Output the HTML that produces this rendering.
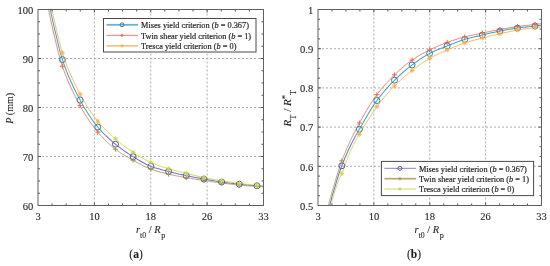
<!DOCTYPE html>
<html><head><meta charset="utf-8"><style>
html,body{margin:0;padding:0;background:#fff;width:550px;height:266px;overflow:hidden}
svg{display:block;filter:blur(0.45px)}
</style></head><body>
<svg width="550" height="266" viewBox="0 0 550 266">
<defs>
<clipPath id="cTop"><rect x="0" y="0" width="550" height="135.5"/></clipPath>
<clipPath id="cBot"><rect x="0" y="135.5" width="550" height="130.5"/></clipPath>
<clipPath id="axL"><rect x="38.0" y="9.5" width="225.5" height="196.0"/></clipPath>
<clipPath id="axR"><rect x="318.0" y="9.5" width="223.5" height="196.0"/></clipPath>
</defs>
<style>.g{stroke:#a4a4a4;stroke-width:0.9;stroke-dasharray:2 2}.t{stroke:#444;stroke-width:0.9;fill:none}.bx{fill:none;stroke:#606060;stroke-width:1}text{font-family:"Liberation Serif",serif;fill:#1e1e1e;stroke:#1e1e1e;stroke-width:0.1px}</style>
<line x1="94.38" y1="9.5" x2="94.38" y2="205.5" class="g"/>
<line x1="150.75" y1="9.5" x2="150.75" y2="205.5" class="g"/>
<line x1="207.12" y1="9.5" x2="207.12" y2="205.5" class="g"/>
<line x1="38.0" y1="58.50" x2="263.5" y2="58.50" class="g"/>
<line x1="38.0" y1="107.50" x2="263.5" y2="107.50" class="g"/>
<line x1="38.0" y1="156.50" x2="263.5" y2="156.50" class="g"/>
<line x1="373.88" y1="9.5" x2="373.88" y2="205.5" class="g"/>
<line x1="429.75" y1="9.5" x2="429.75" y2="205.5" class="g"/>
<line x1="485.62" y1="9.5" x2="485.62" y2="205.5" class="g"/>
<line x1="318.0" y1="48.70" x2="541.5" y2="48.70" class="g"/>
<line x1="318.0" y1="87.90" x2="541.5" y2="87.90" class="g"/>
<line x1="318.0" y1="127.10" x2="541.5" y2="127.10" class="g"/>
<line x1="318.0" y1="166.30" x2="541.5" y2="166.30" class="g"/>
<g clip-path="url(#axL)"><g clip-path="url(#cTop)"><path d="M50.30,9.50 L50.51,10.51 L50.73,11.52 L50.94,12.54 L51.16,13.55 L51.37,14.56 L51.59,15.57 L51.81,16.58 L52.03,17.59 L52.25,18.60 L52.48,19.61 L52.70,20.62 L52.93,21.63 L53.15,22.63 L53.38,23.64 L53.61,24.65 L53.84,25.66 L54.07,26.66 L54.31,27.67 L54.54,28.68 L54.78,29.68 L55.01,30.69 L55.25,31.70 L55.49,32.70 L55.73,33.71 L55.97,34.71 L56.21,35.72 L56.45,36.73 L56.68,37.73 L56.92,38.74 L57.16,39.75 L57.40,40.76 L57.63,41.77 L57.87,42.78 L58.11,43.79 L58.36,44.80 L58.60,45.81 L58.85,46.82 L59.10,47.82 L59.35,48.83 L59.60,49.83 L59.86,50.83 L60.13,51.83 L60.40,52.83 L60.67,53.82 L60.95,54.81 L61.24,55.80 L61.53,56.79 L61.82,57.77 L62.13,58.75 L62.44,59.73 L62.75,60.70 L63.08,61.68 L63.41,62.65 L63.74,63.62 L64.08,64.60 L64.43,65.57 L64.78,66.54 L65.14,67.51 L65.51,68.48 L65.88,69.44 L66.25,70.41 L66.63,71.37 L67.02,72.34 L67.41,73.30 L67.80,74.26 L68.20,75.22 L68.60,76.18 L69.01,77.14 L69.42,78.09 L69.84,79.04 L70.26,80.00 L70.68,80.95 L71.11,81.90 L71.55,82.84 L71.98,83.79 L72.42,84.73 L72.86,85.67 L73.31,86.61 L73.76,87.55 L74.21,88.48 L74.67,89.42 L75.13,90.35 L75.59,91.27 L76.05,92.20 L76.52,93.12 L76.98,94.05 L77.46,94.96 L77.93,95.88 L78.40,96.80 L78.88,97.71 L79.36,98.61 L79.84,99.52 L80.32,100.42 L80.81,101.33 L81.30,102.23 L81.80,103.13 L82.30,104.03 L82.81,104.94 L83.32,105.84 L83.84,106.74 L84.37,107.63 L84.90,108.53 L85.43,109.43 L85.97,110.32 L86.52,111.21 L87.07,112.09 L87.63,112.97 L88.19,113.85 L88.76,114.73 L89.33,115.60 L89.91,116.47 L90.49,117.33 L91.08,118.19 L91.68,119.04 L92.27,119.88 L92.88,120.72 L93.49,121.56 L94.10,122.38 L94.72,123.21 L95.35,124.02 L95.98,124.83 L96.61,125.63 L97.25,126.42 L97.90,127.20 L98.55,127.98 L99.22,128.75 L99.90,129.52 L100.59,130.29 L101.29,131.05 L102.00,131.81 L102.71,132.56 L103.44,133.30 L104.17,134.04 L104.91,134.78 L105.65,135.51 L106.40,136.23 L107.16,136.95 L107.92,137.66 L108.69,138.37 L109.46,139.07 L110.24,139.76 L111.02,140.45 L111.80,141.14 L112.58,141.81 L113.37,142.48 L114.16,143.15 L114.94,143.81 L115.73,144.46 L116.53,145.10 L117.34,145.74 L118.15,146.38 L118.96,147.01 L119.79,147.64 L120.62,148.26 L121.45,148.87 L122.29,149.48 L123.13,150.08 L123.98,150.68 L124.84,151.28 L125.69,151.86 L126.55,152.45 L127.42,153.02 L128.28,153.60 L129.15,154.16 L130.02,154.72 L130.89,155.28 L131.76,155.83 L132.64,156.38 L133.51,156.92 L134.39,157.46 L135.27,158.01 L136.16,158.55 L137.04,159.10 L137.93,159.64 L138.82,160.18 L139.72,160.72 L140.62,161.25 L141.52,161.77 L142.43,162.28 L143.34,162.78 L144.26,163.27 L145.17,163.75 L146.10,164.21 L147.02,164.66 L147.96,165.09 L148.89,165.51 L149.84,165.90 L150.78,166.27 L151.74,166.63 L152.70,166.97 L153.67,167.30 L154.64,167.63 L155.63,167.94 L156.61,168.24 L157.61,168.54 L158.60,168.83 L159.60,169.11 L160.61,169.39 L161.61,169.66 L162.62,169.92 L163.62,170.19 L164.63,170.45 L165.64,170.71 L166.64,170.97 L167.65,171.23 L168.65,171.49 L169.65,171.74 L170.65,172.00 L171.65,172.25 L172.65,172.50 L173.66,172.75 L174.66,172.99 L175.67,173.24 L176.67,173.47 L177.68,173.71 L178.69,173.94 L179.70,174.17 L180.70,174.40 L181.71,174.63 L182.72,174.85 L183.73,175.07 L184.74,175.29 L185.75,175.51 L186.77,175.72 L187.78,175.93 L188.79,176.14 L189.80,176.35 L190.81,176.55 L191.83,176.75 L192.84,176.95 L193.86,177.15 L194.87,177.34 L195.89,177.54 L196.90,177.73 L197.92,177.92 L198.94,178.11 L199.95,178.30 L200.97,178.49 L201.99,178.67 L203.00,178.86 L204.02,179.04 L205.04,179.22 L206.06,179.41 L207.07,179.59 L208.09,179.78 L209.11,179.96 L210.13,180.14 L211.15,180.32 L212.16,180.50 L213.18,180.67 L214.20,180.85 L215.22,181.02 L216.24,181.19 L217.26,181.35 L218.28,181.52 L219.30,181.67 L220.33,181.83 L221.35,181.98 L222.37,182.12 L223.39,182.27 L224.42,182.41 L225.44,182.55 L226.47,182.69 L227.49,182.82 L228.52,182.95 L229.54,183.09 L230.57,183.21 L231.59,183.34 L232.62,183.46 L233.65,183.58 L234.67,183.70 L235.70,183.82 L236.73,183.94 L237.76,184.05 L238.78,184.16 L239.81,184.26 L240.84,184.37 L241.87,184.47 L242.90,184.57 L243.93,184.67 L244.96,184.77 L245.99,184.86 L247.01,184.95 L248.04,185.04 L249.07,185.14 L250.10,185.22 L251.13,185.31 L252.16,185.40 L253.19,185.49 L254.23,185.57 L255.26,185.66 L256.29,185.74 L257.32,185.83 L258.35,185.91 L259.38,185.99 L260.41,186.07 L261.44,186.15 L262.47,186.22 L263.50,186.30" fill="none" stroke="#45a4c2" stroke-width="1.05" stroke-linejoin="round"/>
<path d="M48.60,9.50 L48.80,10.53 L49.01,11.55 L49.21,12.58 L49.42,13.61 L49.63,14.63 L49.84,15.66 L50.05,16.69 L50.27,17.71 L50.48,18.73 L50.70,19.76 L50.92,20.78 L51.14,21.81 L51.36,22.83 L51.58,23.85 L51.81,24.87 L52.04,25.89 L52.27,26.92 L52.50,27.94 L52.73,28.96 L52.96,29.98 L53.20,31.00 L53.43,32.02 L53.67,33.03 L53.91,34.05 L54.15,35.07 L54.39,36.09 L54.63,37.11 L54.87,38.13 L55.12,39.15 L55.36,40.17 L55.60,41.20 L55.84,42.22 L56.09,43.24 L56.33,44.26 L56.58,45.28 L56.83,46.30 L57.08,47.32 L57.33,48.34 L57.59,49.36 L57.84,50.38 L58.11,51.40 L58.37,52.41 L58.64,53.43 L58.91,54.44 L59.18,55.45 L59.46,56.46 L59.74,57.47 L60.02,58.47 L60.31,59.48 L60.61,60.48 L60.90,61.48 L61.21,62.47 L61.52,63.46 L61.83,64.45 L62.15,65.44 L62.47,66.43 L62.81,67.41 L63.14,68.39 L63.49,69.38 L63.84,70.36 L64.19,71.34 L64.56,72.32 L64.92,73.30 L65.30,74.28 L65.68,75.25 L66.06,76.23 L66.45,77.20 L66.84,78.18 L67.24,79.15 L67.65,80.12 L68.06,81.09 L68.47,82.06 L68.89,83.03 L69.31,83.99 L69.74,84.95 L70.17,85.92 L70.61,86.88 L71.05,87.83 L71.49,88.79 L71.94,89.74 L72.39,90.69 L72.85,91.64 L73.31,92.59 L73.77,93.54 L74.24,94.48 L74.70,95.42 L75.18,96.36 L75.65,97.30 L76.13,98.23 L76.61,99.16 L77.09,100.09 L77.58,101.01 L78.06,101.94 L78.55,102.86 L79.04,103.77 L79.54,104.69 L80.03,105.60 L80.53,106.51 L81.04,107.41 L81.55,108.32 L82.07,109.23 L82.59,110.13 L83.12,111.04 L83.65,111.94 L84.20,112.84 L84.74,113.74 L85.30,114.64 L85.85,115.54 L86.42,116.43 L86.99,117.32 L87.56,118.20 L88.15,119.08 L88.73,119.96 L89.32,120.84 L89.92,121.71 L90.52,122.57 L91.13,123.43 L91.74,124.28 L92.36,125.13 L92.99,125.98 L93.61,126.81 L94.25,127.65 L94.88,128.47 L95.53,129.29 L96.17,130.10 L96.82,130.90 L97.48,131.70 L98.14,132.49 L98.82,133.28 L99.50,134.06 L100.19,134.85 L100.89,135.63 L101.60,136.40 L102.31,137.18 L103.04,137.94 L103.77,138.71 L104.51,139.46 L105.25,140.21 L106.01,140.96 L106.77,141.70 L107.53,142.43 L108.30,143.15 L109.08,143.86 L109.86,144.57 L110.65,145.26 L111.44,145.95 L112.24,146.63 L113.04,147.30 L113.84,147.95 L114.65,148.60 L115.47,149.23 L116.29,149.85 L117.12,150.46 L117.97,151.07 L118.82,151.66 L119.68,152.25 L120.55,152.83 L121.43,153.40 L122.32,153.97 L123.21,154.53 L124.11,155.08 L125.01,155.62 L125.92,156.16 L126.83,156.70 L127.74,157.23 L128.65,157.75 L129.57,158.27 L130.48,158.79 L131.40,159.30 L132.31,159.82 L133.22,160.32 L134.13,160.83 L135.05,161.34 L135.97,161.86 L136.89,162.37 L137.81,162.88 L138.73,163.38 L139.66,163.88 L140.59,164.38 L141.52,164.87 L142.46,165.35 L143.40,165.82 L144.34,166.28 L145.28,166.73 L146.23,167.16 L147.19,167.58 L148.15,167.99 L149.11,168.38 L150.08,168.75 L151.05,169.11 L152.02,169.46 L153.01,169.80 L154.00,170.13 L154.99,170.46 L155.99,170.78 L156.99,171.09 L158.00,171.39 L159.00,171.69 L160.01,171.98 L161.03,172.26 L162.04,172.54 L163.06,172.81 L164.08,173.07 L165.10,173.33 L166.11,173.58 L167.13,173.83 L168.15,174.07 L169.17,174.31 L170.18,174.54 L171.21,174.76 L172.23,174.98 L173.25,175.19 L174.28,175.40 L175.30,175.61 L176.33,175.81 L177.36,176.00 L178.39,176.20 L179.42,176.39 L180.45,176.57 L181.48,176.76 L182.52,176.94 L183.55,177.13 L184.58,177.31 L185.61,177.49 L186.64,177.68 L187.67,177.86 L188.70,178.04 L189.73,178.22 L190.76,178.40 L191.80,178.57 L192.83,178.75 L193.86,178.92 L194.89,179.09 L195.93,179.26 L196.96,179.43 L197.99,179.59 L199.03,179.76 L200.06,179.92 L201.10,180.08 L202.13,180.24 L203.16,180.40 L204.20,180.56 L205.23,180.72 L206.27,180.87 L207.30,181.03 L208.34,181.18 L209.37,181.33 L210.41,181.49 L211.45,181.64 L212.48,181.78 L213.52,181.93 L214.56,182.08 L215.59,182.22 L216.63,182.36 L217.67,182.50 L218.70,182.64 L219.74,182.78 L220.78,182.91 L221.82,183.04 L222.86,183.17 L223.90,183.30 L224.93,183.42 L225.97,183.55 L227.01,183.68 L228.05,183.80 L229.09,183.92 L230.13,184.04 L231.17,184.16 L232.21,184.27 L233.25,184.39 L234.29,184.50 L235.34,184.61 L236.38,184.72 L237.42,184.82 L238.46,184.93 L239.50,185.03 L240.54,185.13 L241.58,185.23 L242.63,185.32 L243.67,185.42 L244.71,185.51 L245.75,185.61 L246.80,185.70 L247.84,185.79 L248.88,185.88 L249.93,185.96 L250.97,186.05 L252.01,186.13 L253.06,186.21 L254.10,186.29 L255.14,186.37 L256.19,186.44 L257.23,186.52 L258.28,186.59 L259.32,186.65 L260.36,186.72 L261.41,186.78 L262.45,186.84 L263.50,186.90" fill="none" stroke="#ec6454" stroke-width="0.85" stroke-linejoin="round"/>
<path d="M52.00,9.50 L52.21,10.50 L52.41,11.50 L52.62,12.50 L52.83,13.49 L53.04,14.49 L53.26,15.49 L53.47,16.49 L53.69,17.48 L53.91,18.48 L54.13,19.48 L54.35,20.47 L54.57,21.47 L54.80,22.46 L55.02,23.45 L55.25,24.45 L55.48,25.44 L55.71,26.44 L55.94,27.43 L56.17,28.42 L56.40,29.41 L56.64,30.41 L56.87,31.40 L57.11,32.39 L57.35,33.38 L57.59,34.37 L57.83,35.36 L58.07,36.36 L58.30,37.35 L58.54,38.34 L58.78,39.34 L59.02,40.33 L59.26,41.33 L59.51,42.32 L59.75,43.31 L60.00,44.30 L60.26,45.29 L60.51,46.28 L60.78,47.27 L61.04,48.25 L61.32,49.23 L61.60,50.21 L61.88,51.18 L62.17,52.15 L62.47,53.12 L62.78,54.08 L63.10,55.05 L63.41,56.01 L63.74,56.97 L64.07,57.93 L64.40,58.89 L64.75,59.85 L65.09,60.81 L65.44,61.77 L65.80,62.73 L66.16,63.69 L66.52,64.64 L66.89,65.60 L67.27,66.55 L67.65,67.50 L68.03,68.45 L68.42,69.40 L68.81,70.35 L69.21,71.29 L69.61,72.24 L70.02,73.18 L70.43,74.12 L70.84,75.06 L71.25,76.00 L71.67,76.94 L72.10,77.87 L72.52,78.81 L72.95,79.74 L73.39,80.67 L73.82,81.59 L74.26,82.52 L74.71,83.44 L75.15,84.36 L75.60,85.28 L76.05,86.20 L76.50,87.11 L76.96,88.02 L77.42,88.93 L77.88,89.84 L78.34,90.74 L78.81,91.64 L79.27,92.54 L79.74,93.43 L80.21,94.33 L80.69,95.22 L81.17,96.11 L81.66,97.00 L82.15,97.89 L82.65,98.78 L83.15,99.67 L83.66,100.55 L84.18,101.44 L84.70,102.32 L85.23,103.20 L85.76,104.08 L86.30,104.96 L86.84,105.83 L87.39,106.70 L87.94,107.57 L88.50,108.43 L89.06,109.29 L89.63,110.15 L90.21,111.00 L90.79,111.85 L91.37,112.69 L91.96,113.53 L92.55,114.36 L93.15,115.19 L93.75,116.01 L94.36,116.83 L94.97,117.64 L95.58,118.45 L96.20,119.24 L96.83,120.03 L97.46,120.82 L98.09,121.60 L98.74,122.37 L99.39,123.14 L100.06,123.90 L100.73,124.66 L101.42,125.42 L102.11,126.17 L102.81,126.91 L103.51,127.66 L104.23,128.39 L104.95,129.12 L105.67,129.85 L106.40,130.57 L107.14,131.29 L107.88,132.00 L108.62,132.71 L109.37,133.42 L110.12,134.12 L110.88,134.81 L111.64,135.50 L112.40,136.18 L113.16,136.86 L113.92,137.54 L114.68,138.21 L115.45,138.88 L116.21,139.54 L116.99,140.20 L117.76,140.85 L118.55,141.51 L119.34,142.15 L120.13,142.80 L120.93,143.44 L121.73,144.07 L122.53,144.70 L123.35,145.33 L124.16,145.95 L124.98,146.57 L125.80,147.18 L126.62,147.78 L127.45,148.38 L128.28,148.98 L129.12,149.57 L129.96,150.15 L130.80,150.73 L131.64,151.30 L132.48,151.86 L133.33,152.42 L134.18,152.97 L135.04,153.53 L135.89,154.08 L136.76,154.63 L137.62,155.17 L138.49,155.72 L139.36,156.25 L140.24,156.79 L141.12,157.31 L142.01,157.83 L142.90,158.34 L143.79,158.85 L144.68,159.34 L145.58,159.83 L146.48,160.30 L147.39,160.77 L148.30,161.22 L149.21,161.66 L150.13,162.09 L151.05,162.50 L151.98,162.91 L152.91,163.31 L153.85,163.70 L154.79,164.09 L155.73,164.46 L156.69,164.84 L157.64,165.20 L158.60,165.56 L159.56,165.91 L160.53,166.26 L161.49,166.60 L162.46,166.93 L163.44,167.26 L164.41,167.57 L165.38,167.89 L166.36,168.19 L167.33,168.49 L168.30,168.78 L169.28,169.07 L170.26,169.34 L171.24,169.61 L172.22,169.87 L173.21,170.12 L174.20,170.37 L175.19,170.61 L176.18,170.85 L177.17,171.08 L178.17,171.32 L179.16,171.55 L180.16,171.77 L181.16,172.00 L182.15,172.23 L183.15,172.47 L184.14,172.70 L185.13,172.94 L186.12,173.18 L187.11,173.43 L188.10,173.68 L189.09,173.93 L190.08,174.19 L191.06,174.45 L192.05,174.71 L193.04,174.97 L194.02,175.23 L195.01,175.49 L196.00,175.74 L196.99,176.00 L197.97,176.25 L198.96,176.49 L199.95,176.73 L200.95,176.97 L201.94,177.19 L202.93,177.41 L203.93,177.63 L204.93,177.83 L205.92,178.04 L206.92,178.24 L207.92,178.43 L208.92,178.63 L209.93,178.81 L210.93,179.00 L211.93,179.18 L212.94,179.36 L213.94,179.54 L214.95,179.72 L215.95,179.89 L216.96,180.06 L217.97,180.23 L218.97,180.39 L219.98,180.56 L220.99,180.72 L221.99,180.88 L223.00,181.04 L224.01,181.19 L225.01,181.35 L226.02,181.50 L227.03,181.65 L228.04,181.80 L229.05,181.95 L230.06,182.09 L231.07,182.23 L232.08,182.37 L233.09,182.51 L234.10,182.65 L235.11,182.78 L236.12,182.91 L237.13,183.04 L238.15,183.17 L239.16,183.29 L240.17,183.42 L241.18,183.54 L242.19,183.65 L243.21,183.77 L244.22,183.88 L245.23,184.00 L246.25,184.11 L247.26,184.21 L248.28,184.32 L249.29,184.43 L250.30,184.53 L251.32,184.64 L252.33,184.74 L253.35,184.84 L254.36,184.94 L255.38,185.04 L256.39,185.14 L257.41,185.24 L258.42,185.34 L259.44,185.43 L260.45,185.53 L261.47,185.62 L262.48,185.71 L263.50,185.80" fill="none" stroke="#f4b34e" stroke-width="0.95" stroke-linejoin="round"/>
<circle cx="62.40" cy="59.60" r="3" fill="none" stroke="#3a8098" stroke-width="1"/>
<circle cx="80.09" cy="100.00" r="3" fill="none" stroke="#3a8098" stroke-width="1"/>
<circle cx="97.78" cy="127.05" r="3" fill="none" stroke="#3a8098" stroke-width="1"/>
<circle cx="115.47" cy="144.24" r="3" fill="none" stroke="#3a8098" stroke-width="1"/>
<circle cx="133.16" cy="156.70" r="3" fill="none" stroke="#3a8098" stroke-width="1"/>
<circle cx="150.85" cy="166.30" r="3" fill="none" stroke="#3a8098" stroke-width="1"/>
<circle cx="168.55" cy="171.46" r="3" fill="none" stroke="#3a8098" stroke-width="1"/>
<circle cx="186.24" cy="175.61" r="3" fill="none" stroke="#3a8098" stroke-width="1"/>
<circle cx="203.93" cy="179.02" r="3" fill="none" stroke="#3a8098" stroke-width="1"/>
<circle cx="221.62" cy="182.02" r="3" fill="none" stroke="#3a8098" stroke-width="1"/>
<circle cx="239.31" cy="184.21" r="3" fill="none" stroke="#3a8098" stroke-width="1"/>
<circle cx="257.00" cy="185.80" r="3" fill="none" stroke="#3a8098" stroke-width="1"/>
<path d="M59.85,66.19H64.95M62.40,63.64V68.74" stroke="#ec6454" stroke-width="1" fill="none"/>
<path d="M77.54,105.70H82.64M80.09,103.15V108.25" stroke="#ec6454" stroke-width="1" fill="none"/>
<path d="M95.23,132.05H100.33M97.78,129.50V134.60" stroke="#ec6454" stroke-width="1" fill="none"/>
<path d="M112.92,149.23H118.02M115.47,146.68V151.78" stroke="#ec6454" stroke-width="1" fill="none"/>
<path d="M130.61,160.29H135.71M133.16,157.74V162.84" stroke="#ec6454" stroke-width="1" fill="none"/>
<path d="M148.30,169.04H153.40M150.85,166.49V171.59" stroke="#ec6454" stroke-width="1" fill="none"/>
<path d="M166.00,174.16H171.10M168.55,171.61V176.71" stroke="#ec6454" stroke-width="1" fill="none"/>
<path d="M183.69,177.61H188.79M186.24,175.06V180.16" stroke="#ec6454" stroke-width="1" fill="none"/>
<path d="M201.38,180.52H206.48M203.93,177.97V183.07" stroke="#ec6454" stroke-width="1" fill="none"/>
<path d="M219.07,183.01H224.17M221.62,180.46V185.56" stroke="#ec6454" stroke-width="1" fill="none"/>
<path d="M236.76,185.01H241.86M239.31,182.46V187.56" stroke="#ec6454" stroke-width="1" fill="none"/>
<path d="M254.45,186.50H259.55M257.00,183.95V189.05" stroke="#ec6454" stroke-width="1" fill="none"/>
<path d="M60.00,52.89H64.80M62.40,50.49V55.29M60.70,51.20L64.10,54.59M60.70,54.59L64.10,51.20" stroke="#f4b34e" stroke-width="1.0" fill="none"/>
<path d="M77.69,94.10H82.49M80.09,91.70V96.50M78.39,92.40L81.79,95.80M78.39,95.80L81.79,92.40" stroke="#f4b34e" stroke-width="1.0" fill="none"/>
<path d="M95.38,121.21H100.18M97.78,118.81V123.61M96.08,119.52L99.48,122.91M96.08,122.91L99.48,119.52" stroke="#f4b34e" stroke-width="1.0" fill="none"/>
<path d="M113.07,138.90H117.87M115.47,136.50V141.30M113.78,137.20L117.17,140.60M113.78,140.60L117.17,137.20" stroke="#f4b34e" stroke-width="1.0" fill="none"/>
<path d="M130.76,152.31H135.56M133.16,149.91V154.71M131.47,150.61L134.86,154.00M131.47,154.00L134.86,150.61" stroke="#f4b34e" stroke-width="1.0" fill="none"/>
<path d="M148.45,162.41H153.25M150.85,160.01V164.81M149.16,160.72L152.55,164.11M149.16,164.11L152.55,160.72" stroke="#f4b34e" stroke-width="1.0" fill="none"/>
<path d="M166.15,168.85H170.95M168.55,166.45V171.25M166.85,167.16L170.24,170.55M166.85,170.55L170.24,167.16" stroke="#f4b34e" stroke-width="1.0" fill="none"/>
<path d="M183.84,173.21H188.64M186.24,170.81V175.61M184.54,171.51L187.93,174.91M184.54,174.91L187.93,171.51" stroke="#f4b34e" stroke-width="1.0" fill="none"/>
<path d="M201.53,177.63H206.33M203.93,175.23V180.03M202.23,175.93L205.62,179.32M202.23,179.32L205.62,175.93" stroke="#f4b34e" stroke-width="1.0" fill="none"/>
<path d="M219.22,180.82H224.02M221.62,178.42V183.22M219.92,179.12L223.32,182.52M219.92,182.52L223.32,179.12" stroke="#f4b34e" stroke-width="1.0" fill="none"/>
<path d="M236.91,183.31H241.71M239.31,180.91V185.71M237.61,181.62L241.01,185.01M237.61,185.01L241.01,181.62" stroke="#f4b34e" stroke-width="1.0" fill="none"/>
<path d="M254.60,185.20H259.40M257.00,182.80V187.60M255.30,183.50L258.70,186.90M255.30,186.90L258.70,183.50" stroke="#f4b34e" stroke-width="1.0" fill="none"/></g>
<g clip-path="url(#cBot)"><path d="M50.30,9.50 L50.51,10.51 L50.73,11.52 L50.94,12.54 L51.16,13.55 L51.37,14.56 L51.59,15.57 L51.81,16.58 L52.03,17.59 L52.25,18.60 L52.48,19.61 L52.70,20.62 L52.93,21.63 L53.15,22.63 L53.38,23.64 L53.61,24.65 L53.84,25.66 L54.07,26.66 L54.31,27.67 L54.54,28.68 L54.78,29.68 L55.01,30.69 L55.25,31.70 L55.49,32.70 L55.73,33.71 L55.97,34.71 L56.21,35.72 L56.45,36.73 L56.68,37.73 L56.92,38.74 L57.16,39.75 L57.40,40.76 L57.63,41.77 L57.87,42.78 L58.11,43.79 L58.36,44.80 L58.60,45.81 L58.85,46.82 L59.10,47.82 L59.35,48.83 L59.60,49.83 L59.86,50.83 L60.13,51.83 L60.40,52.83 L60.67,53.82 L60.95,54.81 L61.24,55.80 L61.53,56.79 L61.82,57.77 L62.13,58.75 L62.44,59.73 L62.75,60.70 L63.08,61.68 L63.41,62.65 L63.74,63.62 L64.08,64.60 L64.43,65.57 L64.78,66.54 L65.14,67.51 L65.51,68.48 L65.88,69.44 L66.25,70.41 L66.63,71.37 L67.02,72.34 L67.41,73.30 L67.80,74.26 L68.20,75.22 L68.60,76.18 L69.01,77.14 L69.42,78.09 L69.84,79.04 L70.26,80.00 L70.68,80.95 L71.11,81.90 L71.55,82.84 L71.98,83.79 L72.42,84.73 L72.86,85.67 L73.31,86.61 L73.76,87.55 L74.21,88.48 L74.67,89.42 L75.13,90.35 L75.59,91.27 L76.05,92.20 L76.52,93.12 L76.98,94.05 L77.46,94.96 L77.93,95.88 L78.40,96.80 L78.88,97.71 L79.36,98.61 L79.84,99.52 L80.32,100.42 L80.81,101.33 L81.30,102.23 L81.80,103.13 L82.30,104.03 L82.81,104.94 L83.32,105.84 L83.84,106.74 L84.37,107.63 L84.90,108.53 L85.43,109.43 L85.97,110.32 L86.52,111.21 L87.07,112.09 L87.63,112.97 L88.19,113.85 L88.76,114.73 L89.33,115.60 L89.91,116.47 L90.49,117.33 L91.08,118.19 L91.68,119.04 L92.27,119.88 L92.88,120.72 L93.49,121.56 L94.10,122.38 L94.72,123.21 L95.35,124.02 L95.98,124.83 L96.61,125.63 L97.25,126.42 L97.90,127.20 L98.55,127.98 L99.22,128.75 L99.90,129.52 L100.59,130.29 L101.29,131.05 L102.00,131.81 L102.71,132.56 L103.44,133.30 L104.17,134.04 L104.91,134.78 L105.65,135.51 L106.40,136.23 L107.16,136.95 L107.92,137.66 L108.69,138.37 L109.46,139.07 L110.24,139.76 L111.02,140.45 L111.80,141.14 L112.58,141.81 L113.37,142.48 L114.16,143.15 L114.94,143.81 L115.73,144.46 L116.53,145.10 L117.34,145.74 L118.15,146.38 L118.96,147.01 L119.79,147.64 L120.62,148.26 L121.45,148.87 L122.29,149.48 L123.13,150.08 L123.98,150.68 L124.84,151.28 L125.69,151.86 L126.55,152.45 L127.42,153.02 L128.28,153.60 L129.15,154.16 L130.02,154.72 L130.89,155.28 L131.76,155.83 L132.64,156.38 L133.51,156.92 L134.39,157.46 L135.27,158.01 L136.16,158.55 L137.04,159.10 L137.93,159.64 L138.82,160.18 L139.72,160.72 L140.62,161.25 L141.52,161.77 L142.43,162.28 L143.34,162.78 L144.26,163.27 L145.17,163.75 L146.10,164.21 L147.02,164.66 L147.96,165.09 L148.89,165.51 L149.84,165.90 L150.78,166.27 L151.74,166.63 L152.70,166.97 L153.67,167.30 L154.64,167.63 L155.63,167.94 L156.61,168.24 L157.61,168.54 L158.60,168.83 L159.60,169.11 L160.61,169.39 L161.61,169.66 L162.62,169.92 L163.62,170.19 L164.63,170.45 L165.64,170.71 L166.64,170.97 L167.65,171.23 L168.65,171.49 L169.65,171.74 L170.65,172.00 L171.65,172.25 L172.65,172.50 L173.66,172.75 L174.66,172.99 L175.67,173.24 L176.67,173.47 L177.68,173.71 L178.69,173.94 L179.70,174.17 L180.70,174.40 L181.71,174.63 L182.72,174.85 L183.73,175.07 L184.74,175.29 L185.75,175.51 L186.77,175.72 L187.78,175.93 L188.79,176.14 L189.80,176.35 L190.81,176.55 L191.83,176.75 L192.84,176.95 L193.86,177.15 L194.87,177.34 L195.89,177.54 L196.90,177.73 L197.92,177.92 L198.94,178.11 L199.95,178.30 L200.97,178.49 L201.99,178.67 L203.00,178.86 L204.02,179.04 L205.04,179.22 L206.06,179.41 L207.07,179.59 L208.09,179.78 L209.11,179.96 L210.13,180.14 L211.15,180.32 L212.16,180.50 L213.18,180.67 L214.20,180.85 L215.22,181.02 L216.24,181.19 L217.26,181.35 L218.28,181.52 L219.30,181.67 L220.33,181.83 L221.35,181.98 L222.37,182.12 L223.39,182.27 L224.42,182.41 L225.44,182.55 L226.47,182.69 L227.49,182.82 L228.52,182.95 L229.54,183.09 L230.57,183.21 L231.59,183.34 L232.62,183.46 L233.65,183.58 L234.67,183.70 L235.70,183.82 L236.73,183.94 L237.76,184.05 L238.78,184.16 L239.81,184.26 L240.84,184.37 L241.87,184.47 L242.90,184.57 L243.93,184.67 L244.96,184.77 L245.99,184.86 L247.01,184.95 L248.04,185.04 L249.07,185.14 L250.10,185.22 L251.13,185.31 L252.16,185.40 L253.19,185.49 L254.23,185.57 L255.26,185.66 L256.29,185.74 L257.32,185.83 L258.35,185.91 L259.38,185.99 L260.41,186.07 L261.44,186.15 L262.47,186.22 L263.50,186.30" fill="none" stroke="#7573cc" stroke-width="1.05" stroke-linejoin="round"/>
<path d="M48.60,9.50 L48.80,10.53 L49.01,11.55 L49.21,12.58 L49.42,13.61 L49.63,14.63 L49.84,15.66 L50.05,16.69 L50.27,17.71 L50.48,18.73 L50.70,19.76 L50.92,20.78 L51.14,21.81 L51.36,22.83 L51.58,23.85 L51.81,24.87 L52.04,25.89 L52.27,26.92 L52.50,27.94 L52.73,28.96 L52.96,29.98 L53.20,31.00 L53.43,32.02 L53.67,33.03 L53.91,34.05 L54.15,35.07 L54.39,36.09 L54.63,37.11 L54.87,38.13 L55.12,39.15 L55.36,40.17 L55.60,41.20 L55.84,42.22 L56.09,43.24 L56.33,44.26 L56.58,45.28 L56.83,46.30 L57.08,47.32 L57.33,48.34 L57.59,49.36 L57.84,50.38 L58.11,51.40 L58.37,52.41 L58.64,53.43 L58.91,54.44 L59.18,55.45 L59.46,56.46 L59.74,57.47 L60.02,58.47 L60.31,59.48 L60.61,60.48 L60.90,61.48 L61.21,62.47 L61.52,63.46 L61.83,64.45 L62.15,65.44 L62.47,66.43 L62.81,67.41 L63.14,68.39 L63.49,69.38 L63.84,70.36 L64.19,71.34 L64.56,72.32 L64.92,73.30 L65.30,74.28 L65.68,75.25 L66.06,76.23 L66.45,77.20 L66.84,78.18 L67.24,79.15 L67.65,80.12 L68.06,81.09 L68.47,82.06 L68.89,83.03 L69.31,83.99 L69.74,84.95 L70.17,85.92 L70.61,86.88 L71.05,87.83 L71.49,88.79 L71.94,89.74 L72.39,90.69 L72.85,91.64 L73.31,92.59 L73.77,93.54 L74.24,94.48 L74.70,95.42 L75.18,96.36 L75.65,97.30 L76.13,98.23 L76.61,99.16 L77.09,100.09 L77.58,101.01 L78.06,101.94 L78.55,102.86 L79.04,103.77 L79.54,104.69 L80.03,105.60 L80.53,106.51 L81.04,107.41 L81.55,108.32 L82.07,109.23 L82.59,110.13 L83.12,111.04 L83.65,111.94 L84.20,112.84 L84.74,113.74 L85.30,114.64 L85.85,115.54 L86.42,116.43 L86.99,117.32 L87.56,118.20 L88.15,119.08 L88.73,119.96 L89.32,120.84 L89.92,121.71 L90.52,122.57 L91.13,123.43 L91.74,124.28 L92.36,125.13 L92.99,125.98 L93.61,126.81 L94.25,127.65 L94.88,128.47 L95.53,129.29 L96.17,130.10 L96.82,130.90 L97.48,131.70 L98.14,132.49 L98.82,133.28 L99.50,134.06 L100.19,134.85 L100.89,135.63 L101.60,136.40 L102.31,137.18 L103.04,137.94 L103.77,138.71 L104.51,139.46 L105.25,140.21 L106.01,140.96 L106.77,141.70 L107.53,142.43 L108.30,143.15 L109.08,143.86 L109.86,144.57 L110.65,145.26 L111.44,145.95 L112.24,146.63 L113.04,147.30 L113.84,147.95 L114.65,148.60 L115.47,149.23 L116.29,149.85 L117.12,150.46 L117.97,151.07 L118.82,151.66 L119.68,152.25 L120.55,152.83 L121.43,153.40 L122.32,153.97 L123.21,154.53 L124.11,155.08 L125.01,155.62 L125.92,156.16 L126.83,156.70 L127.74,157.23 L128.65,157.75 L129.57,158.27 L130.48,158.79 L131.40,159.30 L132.31,159.82 L133.22,160.32 L134.13,160.83 L135.05,161.34 L135.97,161.86 L136.89,162.37 L137.81,162.88 L138.73,163.38 L139.66,163.88 L140.59,164.38 L141.52,164.87 L142.46,165.35 L143.40,165.82 L144.34,166.28 L145.28,166.73 L146.23,167.16 L147.19,167.58 L148.15,167.99 L149.11,168.38 L150.08,168.75 L151.05,169.11 L152.02,169.46 L153.01,169.80 L154.00,170.13 L154.99,170.46 L155.99,170.78 L156.99,171.09 L158.00,171.39 L159.00,171.69 L160.01,171.98 L161.03,172.26 L162.04,172.54 L163.06,172.81 L164.08,173.07 L165.10,173.33 L166.11,173.58 L167.13,173.83 L168.15,174.07 L169.17,174.31 L170.18,174.54 L171.21,174.76 L172.23,174.98 L173.25,175.19 L174.28,175.40 L175.30,175.61 L176.33,175.81 L177.36,176.00 L178.39,176.20 L179.42,176.39 L180.45,176.57 L181.48,176.76 L182.52,176.94 L183.55,177.13 L184.58,177.31 L185.61,177.49 L186.64,177.68 L187.67,177.86 L188.70,178.04 L189.73,178.22 L190.76,178.40 L191.80,178.57 L192.83,178.75 L193.86,178.92 L194.89,179.09 L195.93,179.26 L196.96,179.43 L197.99,179.59 L199.03,179.76 L200.06,179.92 L201.10,180.08 L202.13,180.24 L203.16,180.40 L204.20,180.56 L205.23,180.72 L206.27,180.87 L207.30,181.03 L208.34,181.18 L209.37,181.33 L210.41,181.49 L211.45,181.64 L212.48,181.78 L213.52,181.93 L214.56,182.08 L215.59,182.22 L216.63,182.36 L217.67,182.50 L218.70,182.64 L219.74,182.78 L220.78,182.91 L221.82,183.04 L222.86,183.17 L223.90,183.30 L224.93,183.42 L225.97,183.55 L227.01,183.68 L228.05,183.80 L229.09,183.92 L230.13,184.04 L231.17,184.16 L232.21,184.27 L233.25,184.39 L234.29,184.50 L235.34,184.61 L236.38,184.72 L237.42,184.82 L238.46,184.93 L239.50,185.03 L240.54,185.13 L241.58,185.23 L242.63,185.32 L243.67,185.42 L244.71,185.51 L245.75,185.61 L246.80,185.70 L247.84,185.79 L248.88,185.88 L249.93,185.96 L250.97,186.05 L252.01,186.13 L253.06,186.21 L254.10,186.29 L255.14,186.37 L256.19,186.44 L257.23,186.52 L258.28,186.59 L259.32,186.65 L260.36,186.72 L261.41,186.78 L262.45,186.84 L263.50,186.90" fill="none" stroke="#a89458" stroke-width="0.85" stroke-linejoin="round"/>
<path d="M52.00,9.50 L52.21,10.50 L52.41,11.50 L52.62,12.50 L52.83,13.49 L53.04,14.49 L53.26,15.49 L53.47,16.49 L53.69,17.48 L53.91,18.48 L54.13,19.48 L54.35,20.47 L54.57,21.47 L54.80,22.46 L55.02,23.45 L55.25,24.45 L55.48,25.44 L55.71,26.44 L55.94,27.43 L56.17,28.42 L56.40,29.41 L56.64,30.41 L56.87,31.40 L57.11,32.39 L57.35,33.38 L57.59,34.37 L57.83,35.36 L58.07,36.36 L58.30,37.35 L58.54,38.34 L58.78,39.34 L59.02,40.33 L59.26,41.33 L59.51,42.32 L59.75,43.31 L60.00,44.30 L60.26,45.29 L60.51,46.28 L60.78,47.27 L61.04,48.25 L61.32,49.23 L61.60,50.21 L61.88,51.18 L62.17,52.15 L62.47,53.12 L62.78,54.08 L63.10,55.05 L63.41,56.01 L63.74,56.97 L64.07,57.93 L64.40,58.89 L64.75,59.85 L65.09,60.81 L65.44,61.77 L65.80,62.73 L66.16,63.69 L66.52,64.64 L66.89,65.60 L67.27,66.55 L67.65,67.50 L68.03,68.45 L68.42,69.40 L68.81,70.35 L69.21,71.29 L69.61,72.24 L70.02,73.18 L70.43,74.12 L70.84,75.06 L71.25,76.00 L71.67,76.94 L72.10,77.87 L72.52,78.81 L72.95,79.74 L73.39,80.67 L73.82,81.59 L74.26,82.52 L74.71,83.44 L75.15,84.36 L75.60,85.28 L76.05,86.20 L76.50,87.11 L76.96,88.02 L77.42,88.93 L77.88,89.84 L78.34,90.74 L78.81,91.64 L79.27,92.54 L79.74,93.43 L80.21,94.33 L80.69,95.22 L81.17,96.11 L81.66,97.00 L82.15,97.89 L82.65,98.78 L83.15,99.67 L83.66,100.55 L84.18,101.44 L84.70,102.32 L85.23,103.20 L85.76,104.08 L86.30,104.96 L86.84,105.83 L87.39,106.70 L87.94,107.57 L88.50,108.43 L89.06,109.29 L89.63,110.15 L90.21,111.00 L90.79,111.85 L91.37,112.69 L91.96,113.53 L92.55,114.36 L93.15,115.19 L93.75,116.01 L94.36,116.83 L94.97,117.64 L95.58,118.45 L96.20,119.24 L96.83,120.03 L97.46,120.82 L98.09,121.60 L98.74,122.37 L99.39,123.14 L100.06,123.90 L100.73,124.66 L101.42,125.42 L102.11,126.17 L102.81,126.91 L103.51,127.66 L104.23,128.39 L104.95,129.12 L105.67,129.85 L106.40,130.57 L107.14,131.29 L107.88,132.00 L108.62,132.71 L109.37,133.42 L110.12,134.12 L110.88,134.81 L111.64,135.50 L112.40,136.18 L113.16,136.86 L113.92,137.54 L114.68,138.21 L115.45,138.88 L116.21,139.54 L116.99,140.20 L117.76,140.85 L118.55,141.51 L119.34,142.15 L120.13,142.80 L120.93,143.44 L121.73,144.07 L122.53,144.70 L123.35,145.33 L124.16,145.95 L124.98,146.57 L125.80,147.18 L126.62,147.78 L127.45,148.38 L128.28,148.98 L129.12,149.57 L129.96,150.15 L130.80,150.73 L131.64,151.30 L132.48,151.86 L133.33,152.42 L134.18,152.97 L135.04,153.53 L135.89,154.08 L136.76,154.63 L137.62,155.17 L138.49,155.72 L139.36,156.25 L140.24,156.79 L141.12,157.31 L142.01,157.83 L142.90,158.34 L143.79,158.85 L144.68,159.34 L145.58,159.83 L146.48,160.30 L147.39,160.77 L148.30,161.22 L149.21,161.66 L150.13,162.09 L151.05,162.50 L151.98,162.91 L152.91,163.31 L153.85,163.70 L154.79,164.09 L155.73,164.46 L156.69,164.84 L157.64,165.20 L158.60,165.56 L159.56,165.91 L160.53,166.26 L161.49,166.60 L162.46,166.93 L163.44,167.26 L164.41,167.57 L165.38,167.89 L166.36,168.19 L167.33,168.49 L168.30,168.78 L169.28,169.07 L170.26,169.34 L171.24,169.61 L172.22,169.87 L173.21,170.12 L174.20,170.37 L175.19,170.61 L176.18,170.85 L177.17,171.08 L178.17,171.32 L179.16,171.55 L180.16,171.77 L181.16,172.00 L182.15,172.23 L183.15,172.47 L184.14,172.70 L185.13,172.94 L186.12,173.18 L187.11,173.43 L188.10,173.68 L189.09,173.93 L190.08,174.19 L191.06,174.45 L192.05,174.71 L193.04,174.97 L194.02,175.23 L195.01,175.49 L196.00,175.74 L196.99,176.00 L197.97,176.25 L198.96,176.49 L199.95,176.73 L200.95,176.97 L201.94,177.19 L202.93,177.41 L203.93,177.63 L204.93,177.83 L205.92,178.04 L206.92,178.24 L207.92,178.43 L208.92,178.63 L209.93,178.81 L210.93,179.00 L211.93,179.18 L212.94,179.36 L213.94,179.54 L214.95,179.72 L215.95,179.89 L216.96,180.06 L217.97,180.23 L218.97,180.39 L219.98,180.56 L220.99,180.72 L221.99,180.88 L223.00,181.04 L224.01,181.19 L225.01,181.35 L226.02,181.50 L227.03,181.65 L228.04,181.80 L229.05,181.95 L230.06,182.09 L231.07,182.23 L232.08,182.37 L233.09,182.51 L234.10,182.65 L235.11,182.78 L236.12,182.91 L237.13,183.04 L238.15,183.17 L239.16,183.29 L240.17,183.42 L241.18,183.54 L242.19,183.65 L243.21,183.77 L244.22,183.88 L245.23,184.00 L246.25,184.11 L247.26,184.21 L248.28,184.32 L249.29,184.43 L250.30,184.53 L251.32,184.64 L252.33,184.74 L253.35,184.84 L254.36,184.94 L255.38,185.04 L256.39,185.14 L257.41,185.24 L258.42,185.34 L259.44,185.43 L260.45,185.53 L261.47,185.62 L262.48,185.71 L263.50,185.80" fill="none" stroke="#c8d850" stroke-width="0.95" stroke-linejoin="round"/>
<circle cx="62.40" cy="59.60" r="3" fill="none" stroke="#5a5890" stroke-width="1"/>
<circle cx="80.09" cy="100.00" r="3" fill="none" stroke="#5a5890" stroke-width="1"/>
<circle cx="97.78" cy="127.05" r="3" fill="none" stroke="#5a5890" stroke-width="1"/>
<circle cx="115.47" cy="144.24" r="3" fill="none" stroke="#5a5890" stroke-width="1"/>
<circle cx="133.16" cy="156.70" r="3" fill="none" stroke="#5a5890" stroke-width="1"/>
<circle cx="150.85" cy="166.30" r="3" fill="none" stroke="#5a5890" stroke-width="1"/>
<circle cx="168.55" cy="171.46" r="3" fill="none" stroke="#5a5890" stroke-width="1"/>
<circle cx="186.24" cy="175.61" r="3" fill="none" stroke="#5a5890" stroke-width="1"/>
<circle cx="203.93" cy="179.02" r="3" fill="none" stroke="#5a5890" stroke-width="1"/>
<circle cx="221.62" cy="182.02" r="3" fill="none" stroke="#5a5890" stroke-width="1"/>
<circle cx="239.31" cy="184.21" r="3" fill="none" stroke="#5a5890" stroke-width="1"/>
<circle cx="257.00" cy="185.80" r="3" fill="none" stroke="#5a5890" stroke-width="1"/>
<path d="M59.85,66.19H64.95M62.40,63.64V68.74" stroke="#a89458" stroke-width="1" fill="none"/>
<path d="M77.54,105.70H82.64M80.09,103.15V108.25" stroke="#a89458" stroke-width="1" fill="none"/>
<path d="M95.23,132.05H100.33M97.78,129.50V134.60" stroke="#a89458" stroke-width="1" fill="none"/>
<path d="M112.92,149.23H118.02M115.47,146.68V151.78" stroke="#a89458" stroke-width="1" fill="none"/>
<path d="M130.61,160.29H135.71M133.16,157.74V162.84" stroke="#a89458" stroke-width="1" fill="none"/>
<path d="M148.30,169.04H153.40M150.85,166.49V171.59" stroke="#a89458" stroke-width="1" fill="none"/>
<path d="M166.00,174.16H171.10M168.55,171.61V176.71" stroke="#a89458" stroke-width="1" fill="none"/>
<path d="M183.69,177.61H188.79M186.24,175.06V180.16" stroke="#a89458" stroke-width="1" fill="none"/>
<path d="M201.38,180.52H206.48M203.93,177.97V183.07" stroke="#a89458" stroke-width="1" fill="none"/>
<path d="M219.07,183.01H224.17M221.62,180.46V185.56" stroke="#a89458" stroke-width="1" fill="none"/>
<path d="M236.76,185.01H241.86M239.31,182.46V187.56" stroke="#a89458" stroke-width="1" fill="none"/>
<path d="M254.45,186.50H259.55M257.00,183.95V189.05" stroke="#a89458" stroke-width="1" fill="none"/>
<path d="M60.00,52.89H64.80M62.40,50.49V55.29M60.70,51.20L64.10,54.59M60.70,54.59L64.10,51.20" stroke="#c8d850" stroke-width="1.0" fill="none"/>
<path d="M77.69,94.10H82.49M80.09,91.70V96.50M78.39,92.40L81.79,95.80M78.39,95.80L81.79,92.40" stroke="#c8d850" stroke-width="1.0" fill="none"/>
<path d="M95.38,121.21H100.18M97.78,118.81V123.61M96.08,119.52L99.48,122.91M96.08,122.91L99.48,119.52" stroke="#c8d850" stroke-width="1.0" fill="none"/>
<path d="M113.07,138.90H117.87M115.47,136.50V141.30M113.78,137.20L117.17,140.60M113.78,140.60L117.17,137.20" stroke="#c8d850" stroke-width="1.0" fill="none"/>
<path d="M130.76,152.31H135.56M133.16,149.91V154.71M131.47,150.61L134.86,154.00M131.47,154.00L134.86,150.61" stroke="#c8d850" stroke-width="1.0" fill="none"/>
<path d="M148.45,162.41H153.25M150.85,160.01V164.81M149.16,160.72L152.55,164.11M149.16,164.11L152.55,160.72" stroke="#c8d850" stroke-width="1.0" fill="none"/>
<path d="M166.15,168.85H170.95M168.55,166.45V171.25M166.85,167.16L170.24,170.55M166.85,170.55L170.24,167.16" stroke="#c8d850" stroke-width="1.0" fill="none"/>
<path d="M183.84,173.21H188.64M186.24,170.81V175.61M184.54,171.51L187.93,174.91M184.54,174.91L187.93,171.51" stroke="#c8d850" stroke-width="1.0" fill="none"/>
<path d="M201.53,177.63H206.33M203.93,175.23V180.03M202.23,175.93L205.62,179.32M202.23,179.32L205.62,175.93" stroke="#c8d850" stroke-width="1.0" fill="none"/>
<path d="M219.22,180.82H224.02M221.62,178.42V183.22M219.92,179.12L223.32,182.52M219.92,182.52L223.32,179.12" stroke="#c8d850" stroke-width="1.0" fill="none"/>
<path d="M236.91,183.31H241.71M239.31,180.91V185.71M237.61,181.62L241.01,185.01M237.61,185.01L241.01,181.62" stroke="#c8d850" stroke-width="1.0" fill="none"/>
<path d="M254.60,185.20H259.40M257.00,182.80V187.60M255.30,183.50L258.70,186.90M255.30,186.90L258.70,183.50" stroke="#c8d850" stroke-width="1.0" fill="none"/></g></g>
<g clip-path="url(#axR)"><g clip-path="url(#cTop)"><path d="M329.70,205.50 L329.95,204.52 L330.21,203.54 L330.46,202.56 L330.72,201.58 L330.98,200.60 L331.25,199.62 L331.51,198.64 L331.78,197.66 L332.05,196.69 L332.33,195.71 L332.60,194.73 L332.88,193.76 L333.16,192.79 L333.44,191.81 L333.72,190.84 L334.01,189.87 L334.29,188.90 L334.58,187.93 L334.87,186.96 L335.16,185.99 L335.46,185.02 L335.75,184.05 L336.05,183.08 L336.35,182.11 L336.64,181.14 L336.94,180.18 L337.25,179.21 L337.55,178.25 L337.86,177.28 L338.16,176.31 L338.47,175.35 L338.79,174.38 L339.11,173.42 L339.43,172.46 L339.75,171.50 L340.08,170.54 L340.42,169.58 L340.76,168.63 L341.10,167.68 L341.45,166.73 L341.81,165.79 L342.17,164.84 L342.53,163.90 L342.90,162.95 L343.27,162.01 L343.65,161.07 L344.03,160.13 L344.42,159.19 L344.81,158.25 L345.20,157.32 L345.60,156.39 L346.00,155.45 L346.41,154.52 L346.81,153.59 L347.23,152.67 L347.64,151.74 L348.06,150.82 L348.48,149.90 L348.91,148.98 L349.34,148.06 L349.77,147.14 L350.21,146.23 L350.64,145.32 L351.09,144.41 L351.54,143.51 L351.99,142.61 L352.46,141.71 L352.92,140.81 L353.40,139.92 L353.88,139.02 L354.36,138.13 L354.85,137.24 L355.34,136.36 L355.84,135.47 L356.34,134.59 L356.84,133.71 L357.34,132.83 L357.85,131.94 L358.35,131.07 L358.86,130.19 L359.36,129.31 L359.87,128.43 L360.37,127.55 L360.87,126.67 L361.38,125.79 L361.88,124.91 L362.38,124.03 L362.88,123.14 L363.39,122.26 L363.89,121.38 L364.39,120.49 L364.90,119.61 L365.40,118.73 L365.91,117.84 L366.42,116.96 L366.93,116.08 L367.45,115.20 L367.96,114.33 L368.48,113.45 L369.00,112.58 L369.53,111.71 L370.06,110.85 L370.59,109.98 L371.12,109.12 L371.66,108.27 L372.21,107.42 L372.76,106.57 L373.31,105.72 L373.87,104.88 L374.43,104.05 L375.00,103.22 L375.58,102.39 L376.16,101.58 L376.75,100.76 L377.34,99.95 L377.94,99.14 L378.55,98.34 L379.16,97.54 L379.78,96.74 L380.41,95.94 L381.04,95.14 L381.68,94.35 L382.32,93.57 L382.97,92.78 L383.62,92.00 L384.28,91.22 L384.95,90.45 L385.62,89.68 L386.29,88.92 L386.96,88.15 L387.65,87.40 L388.33,86.64 L389.02,85.90 L389.71,85.15 L390.40,84.41 L391.10,83.68 L391.80,82.94 L392.50,82.22 L393.21,81.50 L393.92,80.78 L394.63,80.07 L395.35,79.36 L396.07,78.66 L396.80,77.96 L397.53,77.26 L398.27,76.57 L399.01,75.88 L399.76,75.19 L400.52,74.51 L401.27,73.83 L402.04,73.15 L402.80,72.49 L403.57,71.82 L404.35,71.16 L405.13,70.51 L405.91,69.85 L406.69,69.21 L407.48,68.57 L408.27,67.94 L409.07,67.31 L409.86,66.68 L410.66,66.07 L411.47,65.45 L412.27,64.85 L413.08,64.24 L413.89,63.64 L414.70,63.03 L415.52,62.43 L416.35,61.84 L417.17,61.24 L418.01,60.65 L418.84,60.07 L419.68,59.49 L420.52,58.92 L421.37,58.35 L422.22,57.79 L423.08,57.24 L423.94,56.70 L424.80,56.17 L425.67,55.64 L426.54,55.13 L427.42,54.63 L428.30,54.14 L429.18,53.67 L430.07,53.21 L430.96,52.75 L431.87,52.31 L432.78,51.88 L433.69,51.46 L434.62,51.04 L435.54,50.63 L436.47,50.23 L437.41,49.84 L438.35,49.45 L439.29,49.06 L440.24,48.68 L441.18,48.30 L442.13,47.92 L443.07,47.55 L444.02,47.18 L444.97,46.81 L445.91,46.43 L446.85,46.06 L447.79,45.68 L448.73,45.31 L449.67,44.93 L450.62,44.55 L451.56,44.18 L452.50,43.80 L453.45,43.43 L454.39,43.06 L455.34,42.69 L456.29,42.33 L457.24,41.97 L458.19,41.62 L459.14,41.27 L460.09,40.94 L461.05,40.61 L462.01,40.28 L462.97,39.97 L463.93,39.67 L464.90,39.38 L465.87,39.10 L466.84,38.82 L467.82,38.56 L468.79,38.30 L469.77,38.04 L470.75,37.79 L471.74,37.54 L472.72,37.30 L473.71,37.07 L474.69,36.83 L475.68,36.60 L476.67,36.37 L477.66,36.13 L478.65,35.90 L479.64,35.67 L480.62,35.44 L481.61,35.21 L482.60,34.98 L483.58,34.74 L484.57,34.50 L485.55,34.27 L486.54,34.03 L487.52,33.79 L488.51,33.55 L489.49,33.31 L490.48,33.08 L491.47,32.85 L492.45,32.62 L493.44,32.39 L494.43,32.17 L495.42,31.95 L496.41,31.73 L497.40,31.52 L498.39,31.32 L499.38,31.12 L500.37,30.93 L501.37,30.74 L502.36,30.55 L503.36,30.37 L504.36,30.19 L505.35,30.01 L506.35,29.84 L507.35,29.67 L508.35,29.50 L509.35,29.34 L510.35,29.17 L511.35,29.01 L512.35,28.86 L513.36,28.70 L514.36,28.55 L515.36,28.41 L516.36,28.26 L517.36,28.12 L518.37,27.98 L519.37,27.85 L520.37,27.72 L521.38,27.59 L522.38,27.47 L523.39,27.35 L524.40,27.23 L525.40,27.11 L526.41,26.99 L527.42,26.88 L528.42,26.76 L529.43,26.65 L530.44,26.54 L531.44,26.42 L532.45,26.30 L533.46,26.19 L534.46,26.07 L535.47,25.94 L536.47,25.82 L537.48,25.70 L538.48,25.57 L539.49,25.45 L540.49,25.32 L541.50,25.20" fill="none" stroke="#45a4c2" stroke-width="1.05" stroke-linejoin="round"/>
<path d="M328.30,205.50 L328.56,204.51 L328.83,203.52 L329.10,202.52 L329.37,201.53 L329.64,200.54 L329.91,199.55 L330.18,198.56 L330.46,197.58 L330.74,196.59 L331.02,195.60 L331.30,194.61 L331.58,193.62 L331.86,192.64 L332.14,191.65 L332.43,190.67 L332.71,189.68 L333.00,188.69 L333.29,187.71 L333.58,186.73 L333.87,185.74 L334.17,184.76 L334.46,183.78 L334.76,182.79 L335.05,181.81 L335.35,180.83 L335.65,179.85 L335.95,178.86 L336.24,177.88 L336.54,176.90 L336.84,175.92 L337.14,174.94 L337.45,173.95 L337.75,172.97 L338.06,171.99 L338.37,171.01 L338.68,170.03 L338.99,169.05 L339.31,168.08 L339.63,167.10 L339.95,166.13 L340.28,165.16 L340.62,164.19 L340.96,163.22 L341.30,162.26 L341.65,161.29 L342.00,160.33 L342.36,159.37 L342.73,158.42 L343.10,157.46 L343.48,156.50 L343.86,155.55 L344.25,154.60 L344.64,153.65 L345.04,152.70 L345.44,151.75 L345.84,150.81 L346.25,149.86 L346.66,148.92 L347.07,147.98 L347.49,147.04 L347.90,146.11 L348.32,145.17 L348.75,144.24 L349.17,143.30 L349.60,142.37 L350.03,141.44 L350.47,140.51 L350.91,139.58 L351.35,138.66 L351.79,137.73 L352.24,136.80 L352.69,135.88 L353.15,134.96 L353.60,134.04 L354.06,133.12 L354.53,132.20 L354.99,131.29 L355.46,130.37 L355.93,129.46 L356.41,128.55 L356.89,127.64 L357.37,126.73 L357.85,125.83 L358.34,124.93 L358.83,124.03 L359.32,123.13 L359.81,122.23 L360.31,121.34 L360.81,120.44 L361.31,119.54 L361.81,118.65 L362.32,117.75 L362.82,116.85 L363.33,115.96 L363.84,115.06 L364.36,114.17 L364.88,113.28 L365.40,112.39 L365.92,111.50 L366.45,110.61 L366.98,109.72 L367.51,108.84 L368.05,107.96 L368.59,107.08 L369.13,106.21 L369.68,105.34 L370.23,104.47 L370.78,103.60 L371.34,102.74 L371.91,101.89 L372.47,101.03 L373.05,100.18 L373.62,99.34 L374.21,98.50 L374.79,97.66 L375.38,96.83 L375.98,96.01 L376.58,95.19 L377.19,94.38 L377.80,93.56 L378.43,92.75 L379.06,91.95 L379.69,91.14 L380.34,90.34 L380.98,89.55 L381.64,88.75 L382.30,87.96 L382.97,87.18 L383.64,86.39 L384.32,85.61 L385.00,84.84 L385.69,84.07 L386.38,83.30 L387.08,82.54 L387.78,81.78 L388.48,81.03 L389.19,80.28 L389.90,79.54 L390.61,78.80 L391.33,78.06 L392.05,77.33 L392.78,76.61 L393.50,75.89 L394.23,75.18 L394.96,74.46 L395.70,73.75 L396.44,73.05 L397.19,72.34 L397.94,71.64 L398.69,70.94 L399.46,70.25 L400.22,69.56 L401.00,68.87 L401.77,68.19 L402.55,67.51 L403.34,66.84 L404.13,66.18 L404.93,65.52 L405.72,64.87 L406.53,64.23 L407.34,63.59 L408.15,62.96 L408.97,62.35 L409.79,61.74 L410.61,61.14 L411.44,60.55 L412.28,59.97 L413.12,59.40 L413.97,58.83 L414.82,58.27 L415.68,57.72 L416.55,57.17 L417.43,56.63 L418.31,56.10 L419.19,55.57 L420.08,55.05 L420.98,54.53 L421.87,54.02 L422.78,53.52 L423.68,53.02 L424.59,52.53 L425.50,52.05 L426.41,51.57 L427.32,51.10 L428.23,50.63 L429.15,50.17 L430.06,49.72 L430.98,49.27 L431.91,48.83 L432.83,48.39 L433.77,47.96 L434.70,47.53 L435.64,47.11 L436.58,46.69 L437.52,46.28 L438.47,45.87 L439.41,45.47 L440.36,45.07 L441.32,44.69 L442.27,44.30 L443.23,43.92 L444.18,43.55 L445.14,43.19 L446.10,42.83 L447.06,42.48 L448.03,42.13 L448.99,41.79 L449.96,41.45 L450.93,41.11 L451.90,40.78 L452.88,40.46 L453.85,40.14 L454.83,39.82 L455.81,39.51 L456.79,39.20 L457.78,38.90 L458.76,38.60 L459.75,38.31 L460.73,38.03 L461.72,37.75 L462.71,37.48 L463.70,37.21 L464.69,36.95 L465.68,36.70 L466.68,36.45 L467.67,36.21 L468.67,35.97 L469.67,35.74 L470.67,35.51 L471.67,35.29 L472.68,35.07 L473.68,34.85 L474.68,34.63 L475.69,34.42 L476.70,34.21 L477.70,34.00 L478.71,33.79 L479.71,33.58 L480.72,33.37 L481.72,33.16 L482.73,32.95 L483.73,32.74 L484.74,32.53 L485.74,32.32 L486.75,32.11 L487.75,31.90 L488.76,31.69 L489.76,31.49 L490.77,31.28 L491.77,31.08 L492.78,30.88 L493.79,30.68 L494.79,30.48 L495.80,30.29 L496.81,30.09 L497.82,29.90 L498.83,29.71 L499.84,29.53 L500.85,29.35 L501.86,29.17 L502.87,28.98 L503.88,28.81 L504.89,28.63 L505.90,28.45 L506.91,28.28 L507.92,28.11 L508.94,27.94 L509.95,27.77 L510.96,27.60 L511.98,27.44 L512.99,27.28 L514.00,27.12 L515.02,26.97 L516.03,26.81 L517.05,26.66 L518.06,26.52 L519.08,26.38 L520.10,26.24 L521.11,26.10 L522.13,25.96 L523.15,25.83 L524.17,25.70 L525.18,25.57 L526.20,25.44 L527.22,25.32 L528.24,25.19 L529.26,25.07 L530.28,24.95 L531.30,24.83 L532.32,24.71 L533.34,24.59 L534.36,24.47 L535.38,24.36 L536.40,24.24 L537.42,24.13 L538.44,24.02 L539.46,23.91 L540.48,23.81 L541.50,23.70" fill="none" stroke="#ec6454" stroke-width="0.85" stroke-linejoin="round"/>
<path d="M331.20,205.50 L331.39,204.51 L331.58,203.52 L331.79,202.53 L332.00,201.54 L332.23,200.56 L332.46,199.59 L332.71,198.61 L332.96,197.64 L333.22,196.67 L333.48,195.71 L333.76,194.75 L334.04,193.79 L334.33,192.83 L334.63,191.88 L334.93,190.93 L335.24,189.98 L335.55,189.03 L335.87,188.09 L336.19,187.15 L336.52,186.21 L336.85,185.27 L337.19,184.33 L337.53,183.40 L337.87,182.47 L338.22,181.54 L338.57,180.61 L338.92,179.69 L339.30,178.77 L339.72,177.87 L340.15,176.97 L340.60,176.07 L341.05,175.18 L341.49,174.28 L341.92,173.37 L342.32,172.46 L342.70,171.54 L343.06,170.61 L343.42,169.68 L343.78,168.75 L344.12,167.82 L344.46,166.88 L344.80,165.94 L345.14,165.00 L345.48,164.06 L345.82,163.12 L346.17,162.18 L346.52,161.25 L346.88,160.32 L347.24,159.39 L347.60,158.46 L347.96,157.52 L348.33,156.59 L348.69,155.66 L349.05,154.73 L349.42,153.79 L349.78,152.86 L350.16,151.93 L350.53,151.01 L350.91,150.09 L351.30,149.17 L351.70,148.25 L352.10,147.34 L352.52,146.44 L352.94,145.54 L353.37,144.65 L353.82,143.76 L354.29,142.88 L354.77,142.01 L355.26,141.14 L355.76,140.28 L356.27,139.42 L356.79,138.56 L357.30,137.70 L357.83,136.85 L358.35,136.00 L358.87,135.14 L359.39,134.29 L359.90,133.43 L360.41,132.58 L360.93,131.72 L361.44,130.86 L361.95,130.00 L362.46,129.14 L362.98,128.28 L363.49,127.43 L364.00,126.57 L364.52,125.71 L365.03,124.85 L365.55,123.99 L366.07,123.13 L366.59,122.28 L367.11,121.42 L367.64,120.57 L368.16,119.72 L368.69,118.87 L369.22,118.02 L369.75,117.18 L370.29,116.33 L370.83,115.49 L371.37,114.66 L371.92,113.82 L372.47,112.99 L373.02,112.16 L373.58,111.34 L374.14,110.52 L374.71,109.70 L375.28,108.89 L375.85,108.08 L376.43,107.27 L377.02,106.48 L377.61,105.68 L378.20,104.88 L378.81,104.09 L379.41,103.30 L380.02,102.51 L380.64,101.73 L381.26,100.94 L381.88,100.16 L382.51,99.38 L383.15,98.61 L383.79,97.83 L384.43,97.07 L385.08,96.30 L385.73,95.54 L386.38,94.78 L387.04,94.02 L387.70,93.27 L388.37,92.52 L389.04,91.78 L389.71,91.04 L390.39,90.30 L391.07,89.57 L391.75,88.84 L392.44,88.12 L393.13,87.40 L393.82,86.69 L394.51,85.99 L395.21,85.28 L395.92,84.58 L396.63,83.89 L397.34,83.19 L398.07,82.51 L398.79,81.82 L399.52,81.14 L400.26,80.46 L401.00,79.79 L401.74,79.12 L402.49,78.45 L403.24,77.79 L404.00,77.13 L404.76,76.48 L405.52,75.83 L406.29,75.18 L407.06,74.54 L407.83,73.91 L408.60,73.27 L409.38,72.65 L410.16,72.02 L410.94,71.41 L411.72,70.79 L412.51,70.18 L413.30,69.58 L414.09,68.97 L414.88,68.37 L415.68,67.76 L416.48,67.17 L417.29,66.57 L418.10,65.98 L418.91,65.39 L419.73,64.81 L420.55,64.23 L421.37,63.66 L422.20,63.09 L423.03,62.53 L423.86,61.98 L424.70,61.43 L425.54,60.90 L426.38,60.36 L427.23,59.84 L428.08,59.33 L428.93,58.83 L429.79,58.33 L430.66,57.85 L431.53,57.37 L432.40,56.90 L433.28,56.43 L434.17,55.98 L435.06,55.53 L435.95,55.08 L436.85,54.64 L437.75,54.20 L438.65,53.77 L439.56,53.35 L440.47,52.93 L441.38,52.51 L442.29,52.09 L443.20,51.68 L444.12,51.27 L445.03,50.87 L445.94,50.46 L446.86,50.06 L447.77,49.66 L448.68,49.26 L449.60,48.86 L450.51,48.47 L451.43,48.07 L452.35,47.68 L453.27,47.29 L454.20,46.90 L455.12,46.52 L456.05,46.14 L456.97,45.76 L457.90,45.39 L458.83,45.03 L459.77,44.68 L460.70,44.33 L461.64,43.99 L462.58,43.65 L463.52,43.33 L464.46,43.01 L465.40,42.71 L466.35,42.41 L467.30,42.11 L468.26,41.82 L469.21,41.54 L470.17,41.27 L471.13,40.99 L472.09,40.73 L473.06,40.46 L474.02,40.20 L474.99,39.94 L475.96,39.69 L476.92,39.44 L477.89,39.18 L478.86,38.94 L479.83,38.69 L480.79,38.44 L481.76,38.19 L482.73,37.94 L483.69,37.69 L484.66,37.45 L485.63,37.21 L486.60,36.96 L487.57,36.72 L488.54,36.49 L489.50,36.25 L490.47,36.01 L491.45,35.78 L492.42,35.55 L493.39,35.32 L494.36,35.09 L495.33,34.87 L496.30,34.64 L497.28,34.42 L498.25,34.20 L499.22,33.98 L500.20,33.76 L501.17,33.54 L502.14,33.32 L503.12,33.09 L504.09,32.87 L505.06,32.65 L506.04,32.43 L507.01,32.21 L507.99,32.00 L508.96,31.78 L509.94,31.57 L510.92,31.37 L511.89,31.16 L512.87,30.96 L513.85,30.77 L514.83,30.58 L515.81,30.40 L516.79,30.22 L517.77,30.05 L518.76,29.89 L519.74,29.73 L520.72,29.57 L521.71,29.42 L522.70,29.27 L523.68,29.13 L524.67,28.99 L525.66,28.85 L526.65,28.71 L527.64,28.57 L528.63,28.44 L529.62,28.31 L530.61,28.17 L531.60,28.04 L532.59,27.91 L533.58,27.79 L534.57,27.66 L535.56,27.53 L536.55,27.40 L537.54,27.28 L538.53,27.16 L539.52,27.04 L540.51,26.92 L541.50,26.80" fill="none" stroke="#f4b34e" stroke-width="0.95" stroke-linejoin="round"/>
<circle cx="341.80" cy="165.81" r="3" fill="none" stroke="#3a8098" stroke-width="1"/>
<circle cx="359.36" cy="129.30" r="3" fill="none" stroke="#3a8098" stroke-width="1"/>
<circle cx="376.93" cy="100.52" r="3" fill="none" stroke="#3a8098" stroke-width="1"/>
<circle cx="394.49" cy="80.21" r="3" fill="none" stroke="#3a8098" stroke-width="1"/>
<circle cx="412.05" cy="65.01" r="3" fill="none" stroke="#3a8098" stroke-width="1"/>
<circle cx="429.62" cy="53.44" r="3" fill="none" stroke="#3a8098" stroke-width="1"/>
<circle cx="447.18" cy="45.93" r="3" fill="none" stroke="#3a8098" stroke-width="1"/>
<circle cx="464.75" cy="39.43" r="3" fill="none" stroke="#3a8098" stroke-width="1"/>
<circle cx="482.31" cy="35.05" r="3" fill="none" stroke="#3a8098" stroke-width="1"/>
<circle cx="499.87" cy="31.02" r="3" fill="none" stroke="#3a8098" stroke-width="1"/>
<circle cx="517.44" cy="28.11" r="3" fill="none" stroke="#3a8098" stroke-width="1"/>
<circle cx="535.00" cy="26.00" r="3" fill="none" stroke="#3a8098" stroke-width="1"/>
<path d="M339.25,160.89H344.35M341.80,158.34V163.44" stroke="#ec6454" stroke-width="1" fill="none"/>
<path d="M356.81,123.05H361.91M359.36,120.50V125.60" stroke="#ec6454" stroke-width="1" fill="none"/>
<path d="M374.38,94.73H379.48M376.93,92.18V97.28" stroke="#ec6454" stroke-width="1" fill="none"/>
<path d="M391.94,74.92H397.04M394.49,72.37V77.47" stroke="#ec6454" stroke-width="1" fill="none"/>
<path d="M409.50,60.12H414.60M412.05,57.57V62.67" stroke="#ec6454" stroke-width="1" fill="none"/>
<path d="M427.07,49.94H432.17M429.62,47.39V52.49" stroke="#ec6454" stroke-width="1" fill="none"/>
<path d="M444.63,42.43H449.73M447.18,39.88V44.98" stroke="#ec6454" stroke-width="1" fill="none"/>
<path d="M462.20,36.94H467.30M464.75,34.39V39.49" stroke="#ec6454" stroke-width="1" fill="none"/>
<path d="M479.76,33.04H484.86M482.31,30.49V35.59" stroke="#ec6454" stroke-width="1" fill="none"/>
<path d="M497.32,29.52H502.42M499.87,26.97V32.07" stroke="#ec6454" stroke-width="1" fill="none"/>
<path d="M514.89,26.61H519.99M517.44,24.06V29.16" stroke="#ec6454" stroke-width="1" fill="none"/>
<path d="M532.45,24.40H537.55M535.00,21.85V26.95" stroke="#ec6454" stroke-width="1" fill="none"/>
<path d="M339.40,173.63H344.20M341.80,171.23V176.03M340.10,171.93L343.50,175.32M340.10,175.32L343.50,171.93" stroke="#f4b34e" stroke-width="1.0" fill="none"/>
<path d="M356.96,134.33H361.76M359.36,131.93V136.73M357.67,132.63L361.06,136.02M357.67,136.02L361.06,132.63" stroke="#f4b34e" stroke-width="1.0" fill="none"/>
<path d="M374.53,106.60H379.33M376.93,104.20V109.00M375.23,104.90L378.62,108.29M375.23,108.29L378.62,104.90" stroke="#f4b34e" stroke-width="1.0" fill="none"/>
<path d="M392.09,86.01H396.89M394.49,83.61V88.41M392.79,84.31L396.19,87.71M392.79,87.71L396.19,84.31" stroke="#f4b34e" stroke-width="1.0" fill="none"/>
<path d="M409.65,70.54H414.45M412.05,68.14V72.94M410.36,68.84L413.75,72.23M410.36,72.23L413.75,68.84" stroke="#f4b34e" stroke-width="1.0" fill="none"/>
<path d="M427.22,58.43H432.02M429.62,56.03V60.83M427.92,56.74L431.32,60.13M427.92,60.13L431.32,56.74" stroke="#f4b34e" stroke-width="1.0" fill="none"/>
<path d="M444.78,49.92H449.58M447.18,47.52V52.32M445.48,48.22L448.88,51.62M445.48,51.62L448.88,48.22" stroke="#f4b34e" stroke-width="1.0" fill="none"/>
<path d="M462.35,42.92H467.15M464.75,40.52V45.32M463.05,41.22L466.44,44.62M463.05,44.62L466.44,41.22" stroke="#f4b34e" stroke-width="1.0" fill="none"/>
<path d="M479.91,38.05H484.71M482.31,35.65V40.45M480.61,36.35L484.01,39.75M480.61,39.75L484.01,36.35" stroke="#f4b34e" stroke-width="1.0" fill="none"/>
<path d="M497.47,33.83H502.27M499.87,31.43V36.23M498.18,32.13L501.57,35.53M498.18,35.53L501.57,32.13" stroke="#f4b34e" stroke-width="1.0" fill="none"/>
<path d="M515.04,30.11H519.84M517.44,27.71V32.51M515.74,28.41L519.13,31.81M515.74,31.81L519.13,28.41" stroke="#f4b34e" stroke-width="1.0" fill="none"/>
<path d="M532.60,27.60H537.40M535.00,25.20V30.00M533.30,25.90L536.70,29.30M533.30,29.30L536.70,25.90" stroke="#f4b34e" stroke-width="1.0" fill="none"/></g>
<g clip-path="url(#cBot)"><path d="M329.70,205.50 L329.95,204.52 L330.21,203.54 L330.46,202.56 L330.72,201.58 L330.98,200.60 L331.25,199.62 L331.51,198.64 L331.78,197.66 L332.05,196.69 L332.33,195.71 L332.60,194.73 L332.88,193.76 L333.16,192.79 L333.44,191.81 L333.72,190.84 L334.01,189.87 L334.29,188.90 L334.58,187.93 L334.87,186.96 L335.16,185.99 L335.46,185.02 L335.75,184.05 L336.05,183.08 L336.35,182.11 L336.64,181.14 L336.94,180.18 L337.25,179.21 L337.55,178.25 L337.86,177.28 L338.16,176.31 L338.47,175.35 L338.79,174.38 L339.11,173.42 L339.43,172.46 L339.75,171.50 L340.08,170.54 L340.42,169.58 L340.76,168.63 L341.10,167.68 L341.45,166.73 L341.81,165.79 L342.17,164.84 L342.53,163.90 L342.90,162.95 L343.27,162.01 L343.65,161.07 L344.03,160.13 L344.42,159.19 L344.81,158.25 L345.20,157.32 L345.60,156.39 L346.00,155.45 L346.41,154.52 L346.81,153.59 L347.23,152.67 L347.64,151.74 L348.06,150.82 L348.48,149.90 L348.91,148.98 L349.34,148.06 L349.77,147.14 L350.21,146.23 L350.64,145.32 L351.09,144.41 L351.54,143.51 L351.99,142.61 L352.46,141.71 L352.92,140.81 L353.40,139.92 L353.88,139.02 L354.36,138.13 L354.85,137.24 L355.34,136.36 L355.84,135.47 L356.34,134.59 L356.84,133.71 L357.34,132.83 L357.85,131.94 L358.35,131.07 L358.86,130.19 L359.36,129.31 L359.87,128.43 L360.37,127.55 L360.87,126.67 L361.38,125.79 L361.88,124.91 L362.38,124.03 L362.88,123.14 L363.39,122.26 L363.89,121.38 L364.39,120.49 L364.90,119.61 L365.40,118.73 L365.91,117.84 L366.42,116.96 L366.93,116.08 L367.45,115.20 L367.96,114.33 L368.48,113.45 L369.00,112.58 L369.53,111.71 L370.06,110.85 L370.59,109.98 L371.12,109.12 L371.66,108.27 L372.21,107.42 L372.76,106.57 L373.31,105.72 L373.87,104.88 L374.43,104.05 L375.00,103.22 L375.58,102.39 L376.16,101.58 L376.75,100.76 L377.34,99.95 L377.94,99.14 L378.55,98.34 L379.16,97.54 L379.78,96.74 L380.41,95.94 L381.04,95.14 L381.68,94.35 L382.32,93.57 L382.97,92.78 L383.62,92.00 L384.28,91.22 L384.95,90.45 L385.62,89.68 L386.29,88.92 L386.96,88.15 L387.65,87.40 L388.33,86.64 L389.02,85.90 L389.71,85.15 L390.40,84.41 L391.10,83.68 L391.80,82.94 L392.50,82.22 L393.21,81.50 L393.92,80.78 L394.63,80.07 L395.35,79.36 L396.07,78.66 L396.80,77.96 L397.53,77.26 L398.27,76.57 L399.01,75.88 L399.76,75.19 L400.52,74.51 L401.27,73.83 L402.04,73.15 L402.80,72.49 L403.57,71.82 L404.35,71.16 L405.13,70.51 L405.91,69.85 L406.69,69.21 L407.48,68.57 L408.27,67.94 L409.07,67.31 L409.86,66.68 L410.66,66.07 L411.47,65.45 L412.27,64.85 L413.08,64.24 L413.89,63.64 L414.70,63.03 L415.52,62.43 L416.35,61.84 L417.17,61.24 L418.01,60.65 L418.84,60.07 L419.68,59.49 L420.52,58.92 L421.37,58.35 L422.22,57.79 L423.08,57.24 L423.94,56.70 L424.80,56.17 L425.67,55.64 L426.54,55.13 L427.42,54.63 L428.30,54.14 L429.18,53.67 L430.07,53.21 L430.96,52.75 L431.87,52.31 L432.78,51.88 L433.69,51.46 L434.62,51.04 L435.54,50.63 L436.47,50.23 L437.41,49.84 L438.35,49.45 L439.29,49.06 L440.24,48.68 L441.18,48.30 L442.13,47.92 L443.07,47.55 L444.02,47.18 L444.97,46.81 L445.91,46.43 L446.85,46.06 L447.79,45.68 L448.73,45.31 L449.67,44.93 L450.62,44.55 L451.56,44.18 L452.50,43.80 L453.45,43.43 L454.39,43.06 L455.34,42.69 L456.29,42.33 L457.24,41.97 L458.19,41.62 L459.14,41.27 L460.09,40.94 L461.05,40.61 L462.01,40.28 L462.97,39.97 L463.93,39.67 L464.90,39.38 L465.87,39.10 L466.84,38.82 L467.82,38.56 L468.79,38.30 L469.77,38.04 L470.75,37.79 L471.74,37.54 L472.72,37.30 L473.71,37.07 L474.69,36.83 L475.68,36.60 L476.67,36.37 L477.66,36.13 L478.65,35.90 L479.64,35.67 L480.62,35.44 L481.61,35.21 L482.60,34.98 L483.58,34.74 L484.57,34.50 L485.55,34.27 L486.54,34.03 L487.52,33.79 L488.51,33.55 L489.49,33.31 L490.48,33.08 L491.47,32.85 L492.45,32.62 L493.44,32.39 L494.43,32.17 L495.42,31.95 L496.41,31.73 L497.40,31.52 L498.39,31.32 L499.38,31.12 L500.37,30.93 L501.37,30.74 L502.36,30.55 L503.36,30.37 L504.36,30.19 L505.35,30.01 L506.35,29.84 L507.35,29.67 L508.35,29.50 L509.35,29.34 L510.35,29.17 L511.35,29.01 L512.35,28.86 L513.36,28.70 L514.36,28.55 L515.36,28.41 L516.36,28.26 L517.36,28.12 L518.37,27.98 L519.37,27.85 L520.37,27.72 L521.38,27.59 L522.38,27.47 L523.39,27.35 L524.40,27.23 L525.40,27.11 L526.41,26.99 L527.42,26.88 L528.42,26.76 L529.43,26.65 L530.44,26.54 L531.44,26.42 L532.45,26.30 L533.46,26.19 L534.46,26.07 L535.47,25.94 L536.47,25.82 L537.48,25.70 L538.48,25.57 L539.49,25.45 L540.49,25.32 L541.50,25.20" fill="none" stroke="#7573cc" stroke-width="1.05" stroke-linejoin="round"/>
<path d="M328.30,205.50 L328.56,204.51 L328.83,203.52 L329.10,202.52 L329.37,201.53 L329.64,200.54 L329.91,199.55 L330.18,198.56 L330.46,197.58 L330.74,196.59 L331.02,195.60 L331.30,194.61 L331.58,193.62 L331.86,192.64 L332.14,191.65 L332.43,190.67 L332.71,189.68 L333.00,188.69 L333.29,187.71 L333.58,186.73 L333.87,185.74 L334.17,184.76 L334.46,183.78 L334.76,182.79 L335.05,181.81 L335.35,180.83 L335.65,179.85 L335.95,178.86 L336.24,177.88 L336.54,176.90 L336.84,175.92 L337.14,174.94 L337.45,173.95 L337.75,172.97 L338.06,171.99 L338.37,171.01 L338.68,170.03 L338.99,169.05 L339.31,168.08 L339.63,167.10 L339.95,166.13 L340.28,165.16 L340.62,164.19 L340.96,163.22 L341.30,162.26 L341.65,161.29 L342.00,160.33 L342.36,159.37 L342.73,158.42 L343.10,157.46 L343.48,156.50 L343.86,155.55 L344.25,154.60 L344.64,153.65 L345.04,152.70 L345.44,151.75 L345.84,150.81 L346.25,149.86 L346.66,148.92 L347.07,147.98 L347.49,147.04 L347.90,146.11 L348.32,145.17 L348.75,144.24 L349.17,143.30 L349.60,142.37 L350.03,141.44 L350.47,140.51 L350.91,139.58 L351.35,138.66 L351.79,137.73 L352.24,136.80 L352.69,135.88 L353.15,134.96 L353.60,134.04 L354.06,133.12 L354.53,132.20 L354.99,131.29 L355.46,130.37 L355.93,129.46 L356.41,128.55 L356.89,127.64 L357.37,126.73 L357.85,125.83 L358.34,124.93 L358.83,124.03 L359.32,123.13 L359.81,122.23 L360.31,121.34 L360.81,120.44 L361.31,119.54 L361.81,118.65 L362.32,117.75 L362.82,116.85 L363.33,115.96 L363.84,115.06 L364.36,114.17 L364.88,113.28 L365.40,112.39 L365.92,111.50 L366.45,110.61 L366.98,109.72 L367.51,108.84 L368.05,107.96 L368.59,107.08 L369.13,106.21 L369.68,105.34 L370.23,104.47 L370.78,103.60 L371.34,102.74 L371.91,101.89 L372.47,101.03 L373.05,100.18 L373.62,99.34 L374.21,98.50 L374.79,97.66 L375.38,96.83 L375.98,96.01 L376.58,95.19 L377.19,94.38 L377.80,93.56 L378.43,92.75 L379.06,91.95 L379.69,91.14 L380.34,90.34 L380.98,89.55 L381.64,88.75 L382.30,87.96 L382.97,87.18 L383.64,86.39 L384.32,85.61 L385.00,84.84 L385.69,84.07 L386.38,83.30 L387.08,82.54 L387.78,81.78 L388.48,81.03 L389.19,80.28 L389.90,79.54 L390.61,78.80 L391.33,78.06 L392.05,77.33 L392.78,76.61 L393.50,75.89 L394.23,75.18 L394.96,74.46 L395.70,73.75 L396.44,73.05 L397.19,72.34 L397.94,71.64 L398.69,70.94 L399.46,70.25 L400.22,69.56 L401.00,68.87 L401.77,68.19 L402.55,67.51 L403.34,66.84 L404.13,66.18 L404.93,65.52 L405.72,64.87 L406.53,64.23 L407.34,63.59 L408.15,62.96 L408.97,62.35 L409.79,61.74 L410.61,61.14 L411.44,60.55 L412.28,59.97 L413.12,59.40 L413.97,58.83 L414.82,58.27 L415.68,57.72 L416.55,57.17 L417.43,56.63 L418.31,56.10 L419.19,55.57 L420.08,55.05 L420.98,54.53 L421.87,54.02 L422.78,53.52 L423.68,53.02 L424.59,52.53 L425.50,52.05 L426.41,51.57 L427.32,51.10 L428.23,50.63 L429.15,50.17 L430.06,49.72 L430.98,49.27 L431.91,48.83 L432.83,48.39 L433.77,47.96 L434.70,47.53 L435.64,47.11 L436.58,46.69 L437.52,46.28 L438.47,45.87 L439.41,45.47 L440.36,45.07 L441.32,44.69 L442.27,44.30 L443.23,43.92 L444.18,43.55 L445.14,43.19 L446.10,42.83 L447.06,42.48 L448.03,42.13 L448.99,41.79 L449.96,41.45 L450.93,41.11 L451.90,40.78 L452.88,40.46 L453.85,40.14 L454.83,39.82 L455.81,39.51 L456.79,39.20 L457.78,38.90 L458.76,38.60 L459.75,38.31 L460.73,38.03 L461.72,37.75 L462.71,37.48 L463.70,37.21 L464.69,36.95 L465.68,36.70 L466.68,36.45 L467.67,36.21 L468.67,35.97 L469.67,35.74 L470.67,35.51 L471.67,35.29 L472.68,35.07 L473.68,34.85 L474.68,34.63 L475.69,34.42 L476.70,34.21 L477.70,34.00 L478.71,33.79 L479.71,33.58 L480.72,33.37 L481.72,33.16 L482.73,32.95 L483.73,32.74 L484.74,32.53 L485.74,32.32 L486.75,32.11 L487.75,31.90 L488.76,31.69 L489.76,31.49 L490.77,31.28 L491.77,31.08 L492.78,30.88 L493.79,30.68 L494.79,30.48 L495.80,30.29 L496.81,30.09 L497.82,29.90 L498.83,29.71 L499.84,29.53 L500.85,29.35 L501.86,29.17 L502.87,28.98 L503.88,28.81 L504.89,28.63 L505.90,28.45 L506.91,28.28 L507.92,28.11 L508.94,27.94 L509.95,27.77 L510.96,27.60 L511.98,27.44 L512.99,27.28 L514.00,27.12 L515.02,26.97 L516.03,26.81 L517.05,26.66 L518.06,26.52 L519.08,26.38 L520.10,26.24 L521.11,26.10 L522.13,25.96 L523.15,25.83 L524.17,25.70 L525.18,25.57 L526.20,25.44 L527.22,25.32 L528.24,25.19 L529.26,25.07 L530.28,24.95 L531.30,24.83 L532.32,24.71 L533.34,24.59 L534.36,24.47 L535.38,24.36 L536.40,24.24 L537.42,24.13 L538.44,24.02 L539.46,23.91 L540.48,23.81 L541.50,23.70" fill="none" stroke="#a89458" stroke-width="0.85" stroke-linejoin="round"/>
<path d="M331.20,205.50 L331.39,204.51 L331.58,203.52 L331.79,202.53 L332.00,201.54 L332.23,200.56 L332.46,199.59 L332.71,198.61 L332.96,197.64 L333.22,196.67 L333.48,195.71 L333.76,194.75 L334.04,193.79 L334.33,192.83 L334.63,191.88 L334.93,190.93 L335.24,189.98 L335.55,189.03 L335.87,188.09 L336.19,187.15 L336.52,186.21 L336.85,185.27 L337.19,184.33 L337.53,183.40 L337.87,182.47 L338.22,181.54 L338.57,180.61 L338.92,179.69 L339.30,178.77 L339.72,177.87 L340.15,176.97 L340.60,176.07 L341.05,175.18 L341.49,174.28 L341.92,173.37 L342.32,172.46 L342.70,171.54 L343.06,170.61 L343.42,169.68 L343.78,168.75 L344.12,167.82 L344.46,166.88 L344.80,165.94 L345.14,165.00 L345.48,164.06 L345.82,163.12 L346.17,162.18 L346.52,161.25 L346.88,160.32 L347.24,159.39 L347.60,158.46 L347.96,157.52 L348.33,156.59 L348.69,155.66 L349.05,154.73 L349.42,153.79 L349.78,152.86 L350.16,151.93 L350.53,151.01 L350.91,150.09 L351.30,149.17 L351.70,148.25 L352.10,147.34 L352.52,146.44 L352.94,145.54 L353.37,144.65 L353.82,143.76 L354.29,142.88 L354.77,142.01 L355.26,141.14 L355.76,140.28 L356.27,139.42 L356.79,138.56 L357.30,137.70 L357.83,136.85 L358.35,136.00 L358.87,135.14 L359.39,134.29 L359.90,133.43 L360.41,132.58 L360.93,131.72 L361.44,130.86 L361.95,130.00 L362.46,129.14 L362.98,128.28 L363.49,127.43 L364.00,126.57 L364.52,125.71 L365.03,124.85 L365.55,123.99 L366.07,123.13 L366.59,122.28 L367.11,121.42 L367.64,120.57 L368.16,119.72 L368.69,118.87 L369.22,118.02 L369.75,117.18 L370.29,116.33 L370.83,115.49 L371.37,114.66 L371.92,113.82 L372.47,112.99 L373.02,112.16 L373.58,111.34 L374.14,110.52 L374.71,109.70 L375.28,108.89 L375.85,108.08 L376.43,107.27 L377.02,106.48 L377.61,105.68 L378.20,104.88 L378.81,104.09 L379.41,103.30 L380.02,102.51 L380.64,101.73 L381.26,100.94 L381.88,100.16 L382.51,99.38 L383.15,98.61 L383.79,97.83 L384.43,97.07 L385.08,96.30 L385.73,95.54 L386.38,94.78 L387.04,94.02 L387.70,93.27 L388.37,92.52 L389.04,91.78 L389.71,91.04 L390.39,90.30 L391.07,89.57 L391.75,88.84 L392.44,88.12 L393.13,87.40 L393.82,86.69 L394.51,85.99 L395.21,85.28 L395.92,84.58 L396.63,83.89 L397.34,83.19 L398.07,82.51 L398.79,81.82 L399.52,81.14 L400.26,80.46 L401.00,79.79 L401.74,79.12 L402.49,78.45 L403.24,77.79 L404.00,77.13 L404.76,76.48 L405.52,75.83 L406.29,75.18 L407.06,74.54 L407.83,73.91 L408.60,73.27 L409.38,72.65 L410.16,72.02 L410.94,71.41 L411.72,70.79 L412.51,70.18 L413.30,69.58 L414.09,68.97 L414.88,68.37 L415.68,67.76 L416.48,67.17 L417.29,66.57 L418.10,65.98 L418.91,65.39 L419.73,64.81 L420.55,64.23 L421.37,63.66 L422.20,63.09 L423.03,62.53 L423.86,61.98 L424.70,61.43 L425.54,60.90 L426.38,60.36 L427.23,59.84 L428.08,59.33 L428.93,58.83 L429.79,58.33 L430.66,57.85 L431.53,57.37 L432.40,56.90 L433.28,56.43 L434.17,55.98 L435.06,55.53 L435.95,55.08 L436.85,54.64 L437.75,54.20 L438.65,53.77 L439.56,53.35 L440.47,52.93 L441.38,52.51 L442.29,52.09 L443.20,51.68 L444.12,51.27 L445.03,50.87 L445.94,50.46 L446.86,50.06 L447.77,49.66 L448.68,49.26 L449.60,48.86 L450.51,48.47 L451.43,48.07 L452.35,47.68 L453.27,47.29 L454.20,46.90 L455.12,46.52 L456.05,46.14 L456.97,45.76 L457.90,45.39 L458.83,45.03 L459.77,44.68 L460.70,44.33 L461.64,43.99 L462.58,43.65 L463.52,43.33 L464.46,43.01 L465.40,42.71 L466.35,42.41 L467.30,42.11 L468.26,41.82 L469.21,41.54 L470.17,41.27 L471.13,40.99 L472.09,40.73 L473.06,40.46 L474.02,40.20 L474.99,39.94 L475.96,39.69 L476.92,39.44 L477.89,39.18 L478.86,38.94 L479.83,38.69 L480.79,38.44 L481.76,38.19 L482.73,37.94 L483.69,37.69 L484.66,37.45 L485.63,37.21 L486.60,36.96 L487.57,36.72 L488.54,36.49 L489.50,36.25 L490.47,36.01 L491.45,35.78 L492.42,35.55 L493.39,35.32 L494.36,35.09 L495.33,34.87 L496.30,34.64 L497.28,34.42 L498.25,34.20 L499.22,33.98 L500.20,33.76 L501.17,33.54 L502.14,33.32 L503.12,33.09 L504.09,32.87 L505.06,32.65 L506.04,32.43 L507.01,32.21 L507.99,32.00 L508.96,31.78 L509.94,31.57 L510.92,31.37 L511.89,31.16 L512.87,30.96 L513.85,30.77 L514.83,30.58 L515.81,30.40 L516.79,30.22 L517.77,30.05 L518.76,29.89 L519.74,29.73 L520.72,29.57 L521.71,29.42 L522.70,29.27 L523.68,29.13 L524.67,28.99 L525.66,28.85 L526.65,28.71 L527.64,28.57 L528.63,28.44 L529.62,28.31 L530.61,28.17 L531.60,28.04 L532.59,27.91 L533.58,27.79 L534.57,27.66 L535.56,27.53 L536.55,27.40 L537.54,27.28 L538.53,27.16 L539.52,27.04 L540.51,26.92 L541.50,26.80" fill="none" stroke="#c8d850" stroke-width="0.95" stroke-linejoin="round"/>
<circle cx="341.80" cy="165.81" r="3" fill="none" stroke="#5a5890" stroke-width="1"/>
<circle cx="359.36" cy="129.30" r="3" fill="none" stroke="#5a5890" stroke-width="1"/>
<circle cx="376.93" cy="100.52" r="3" fill="none" stroke="#5a5890" stroke-width="1"/>
<circle cx="394.49" cy="80.21" r="3" fill="none" stroke="#5a5890" stroke-width="1"/>
<circle cx="412.05" cy="65.01" r="3" fill="none" stroke="#5a5890" stroke-width="1"/>
<circle cx="429.62" cy="53.44" r="3" fill="none" stroke="#5a5890" stroke-width="1"/>
<circle cx="447.18" cy="45.93" r="3" fill="none" stroke="#5a5890" stroke-width="1"/>
<circle cx="464.75" cy="39.43" r="3" fill="none" stroke="#5a5890" stroke-width="1"/>
<circle cx="482.31" cy="35.05" r="3" fill="none" stroke="#5a5890" stroke-width="1"/>
<circle cx="499.87" cy="31.02" r="3" fill="none" stroke="#5a5890" stroke-width="1"/>
<circle cx="517.44" cy="28.11" r="3" fill="none" stroke="#5a5890" stroke-width="1"/>
<circle cx="535.00" cy="26.00" r="3" fill="none" stroke="#5a5890" stroke-width="1"/>
<path d="M339.25,160.89H344.35M341.80,158.34V163.44" stroke="#a89458" stroke-width="1" fill="none"/>
<path d="M356.81,123.05H361.91M359.36,120.50V125.60" stroke="#a89458" stroke-width="1" fill="none"/>
<path d="M374.38,94.73H379.48M376.93,92.18V97.28" stroke="#a89458" stroke-width="1" fill="none"/>
<path d="M391.94,74.92H397.04M394.49,72.37V77.47" stroke="#a89458" stroke-width="1" fill="none"/>
<path d="M409.50,60.12H414.60M412.05,57.57V62.67" stroke="#a89458" stroke-width="1" fill="none"/>
<path d="M427.07,49.94H432.17M429.62,47.39V52.49" stroke="#a89458" stroke-width="1" fill="none"/>
<path d="M444.63,42.43H449.73M447.18,39.88V44.98" stroke="#a89458" stroke-width="1" fill="none"/>
<path d="M462.20,36.94H467.30M464.75,34.39V39.49" stroke="#a89458" stroke-width="1" fill="none"/>
<path d="M479.76,33.04H484.86M482.31,30.49V35.59" stroke="#a89458" stroke-width="1" fill="none"/>
<path d="M497.32,29.52H502.42M499.87,26.97V32.07" stroke="#a89458" stroke-width="1" fill="none"/>
<path d="M514.89,26.61H519.99M517.44,24.06V29.16" stroke="#a89458" stroke-width="1" fill="none"/>
<path d="M532.45,24.40H537.55M535.00,21.85V26.95" stroke="#a89458" stroke-width="1" fill="none"/>
<path d="M339.40,173.63H344.20M341.80,171.23V176.03M340.10,171.93L343.50,175.32M340.10,175.32L343.50,171.93" stroke="#c8d850" stroke-width="1.0" fill="none"/>
<path d="M356.96,134.33H361.76M359.36,131.93V136.73M357.67,132.63L361.06,136.02M357.67,136.02L361.06,132.63" stroke="#c8d850" stroke-width="1.0" fill="none"/>
<path d="M374.53,106.60H379.33M376.93,104.20V109.00M375.23,104.90L378.62,108.29M375.23,108.29L378.62,104.90" stroke="#c8d850" stroke-width="1.0" fill="none"/>
<path d="M392.09,86.01H396.89M394.49,83.61V88.41M392.79,84.31L396.19,87.71M392.79,87.71L396.19,84.31" stroke="#c8d850" stroke-width="1.0" fill="none"/>
<path d="M409.65,70.54H414.45M412.05,68.14V72.94M410.36,68.84L413.75,72.23M410.36,72.23L413.75,68.84" stroke="#c8d850" stroke-width="1.0" fill="none"/>
<path d="M427.22,58.43H432.02M429.62,56.03V60.83M427.92,56.74L431.32,60.13M427.92,60.13L431.32,56.74" stroke="#c8d850" stroke-width="1.0" fill="none"/>
<path d="M444.78,49.92H449.58M447.18,47.52V52.32M445.48,48.22L448.88,51.62M445.48,51.62L448.88,48.22" stroke="#c8d850" stroke-width="1.0" fill="none"/>
<path d="M462.35,42.92H467.15M464.75,40.52V45.32M463.05,41.22L466.44,44.62M463.05,44.62L466.44,41.22" stroke="#c8d850" stroke-width="1.0" fill="none"/>
<path d="M479.91,38.05H484.71M482.31,35.65V40.45M480.61,36.35L484.01,39.75M480.61,39.75L484.01,36.35" stroke="#c8d850" stroke-width="1.0" fill="none"/>
<path d="M497.47,33.83H502.27M499.87,31.43V36.23M498.18,32.13L501.57,35.53M498.18,35.53L501.57,32.13" stroke="#c8d850" stroke-width="1.0" fill="none"/>
<path d="M515.04,30.11H519.84M517.44,27.71V32.51M515.74,28.41L519.13,31.81M515.74,31.81L519.13,28.41" stroke="#c8d850" stroke-width="1.0" fill="none"/>
<path d="M532.60,27.60H537.40M535.00,25.20V30.00M533.30,25.90L536.70,29.30M533.30,29.30L536.70,25.90" stroke="#c8d850" stroke-width="1.0" fill="none"/></g></g>
<path d="M52.09,205.5v-2M52.09,9.5v2M66.19,205.5v-2M66.19,9.5v2M80.28,205.5v-2M80.28,9.5v2M94.38,205.5v-3M94.38,9.5v3M108.47,205.5v-2M108.47,9.5v2M122.56,205.5v-2M122.56,9.5v2M136.66,205.5v-2M136.66,9.5v2M150.75,205.5v-3M150.75,9.5v3M164.84,205.5v-2M164.84,9.5v2M178.94,205.5v-2M178.94,9.5v2M193.03,205.5v-2M193.03,9.5v2M207.12,205.5v-3M207.12,9.5v3M221.22,205.5v-2M221.22,9.5v2M235.31,205.5v-2M235.31,9.5v2M249.41,205.5v-2M249.41,9.5v2M38.0,21.75h2M263.5,21.75h-2M38.0,34.00h2M263.5,34.00h-2M38.0,46.25h2M263.5,46.25h-2M38.0,58.50h3M263.5,58.50h-3M38.0,70.75h2M263.5,70.75h-2M38.0,83.00h2M263.5,83.00h-2M38.0,95.25h2M263.5,95.25h-2M38.0,107.50h3M263.5,107.50h-3M38.0,119.75h2M263.5,119.75h-2M38.0,132.00h2M263.5,132.00h-2M38.0,144.25h2M263.5,144.25h-2M38.0,156.50h3M263.5,156.50h-3M38.0,168.75h2M263.5,168.75h-2M38.0,181.00h2M263.5,181.00h-2M38.0,193.25h2M263.5,193.25h-2" class="t"/>
<path d="M331.97,205.5v-2M331.97,9.5v2M345.94,205.5v-2M345.94,9.5v2M359.91,205.5v-2M359.91,9.5v2M373.88,205.5v-3M373.88,9.5v3M387.84,205.5v-2M387.84,9.5v2M401.81,205.5v-2M401.81,9.5v2M415.78,205.5v-2M415.78,9.5v2M429.75,205.5v-3M429.75,9.5v3M443.72,205.5v-2M443.72,9.5v2M457.69,205.5v-2M457.69,9.5v2M471.66,205.5v-2M471.66,9.5v2M485.62,205.5v-3M485.62,9.5v3M499.59,205.5v-2M499.59,9.5v2M513.56,205.5v-2M513.56,9.5v2M527.53,205.5v-2M527.53,9.5v2M318.0,19.30h2M541.5,19.30h-2M318.0,29.10h2M541.5,29.10h-2M318.0,38.90h2M541.5,38.90h-2M318.0,48.70h3M541.5,48.70h-3M318.0,58.50h2M541.5,58.50h-2M318.0,68.30h2M541.5,68.30h-2M318.0,78.10h2M541.5,78.10h-2M318.0,87.90h3M541.5,87.90h-3M318.0,97.70h2M541.5,97.70h-2M318.0,107.50h2M541.5,107.50h-2M318.0,117.30h2M541.5,117.30h-2M318.0,127.10h3M541.5,127.10h-3M318.0,136.90h2M541.5,136.90h-2M318.0,146.70h2M541.5,146.70h-2M318.0,156.50h2M541.5,156.50h-2M318.0,166.30h3M541.5,166.30h-3M318.0,176.10h2M541.5,176.10h-2M318.0,185.90h2M541.5,185.90h-2M318.0,195.70h2M541.5,195.70h-2" class="t"/>
<rect x="38.0" y="9.5" width="225.5" height="196.0" class="bx"/>
<rect x="318.0" y="9.5" width="223.5" height="196.0" class="bx"/>
<text x="33.3" y="13.70" text-anchor="end" font-size="10.5">100</text>
<text x="33.3" y="62.70" text-anchor="end" font-size="10.5">90</text>
<text x="33.3" y="111.70" text-anchor="end" font-size="10.5">80</text>
<text x="33.3" y="160.70" text-anchor="end" font-size="10.5">70</text>
<text x="33.3" y="209.70" text-anchor="end" font-size="10.5">60</text>
<text x="313.2" y="13.70" text-anchor="end" font-size="10.5">1</text>
<text x="313.2" y="52.90" text-anchor="end" font-size="10.5">0.9</text>
<text x="313.2" y="92.10" text-anchor="end" font-size="10.5">0.8</text>
<text x="313.2" y="131.30" text-anchor="end" font-size="10.5">0.7</text>
<text x="313.2" y="170.50" text-anchor="end" font-size="10.5">0.6</text>
<text x="313.2" y="209.70" text-anchor="end" font-size="10.5">0.5</text>
<text x="38.00" y="219.8" text-anchor="middle" font-size="10.5">3</text>
<text x="318.00" y="219.8" text-anchor="middle" font-size="10.5">3</text>
<text x="94.38" y="219.8" text-anchor="middle" font-size="10.5">10</text>
<text x="373.88" y="219.8" text-anchor="middle" font-size="10.5">10</text>
<text x="150.75" y="219.8" text-anchor="middle" font-size="10.5">18</text>
<text x="429.75" y="219.8" text-anchor="middle" font-size="10.5">18</text>
<text x="207.12" y="219.8" text-anchor="middle" font-size="10.5">26</text>
<text x="485.62" y="219.8" text-anchor="middle" font-size="10.5">26</text>
<text x="263.50" y="219.8" text-anchor="middle" font-size="10.5">33</text>
<text x="541.50" y="219.8" text-anchor="middle" font-size="10.5">33</text>
<text x="136" y="233" font-size="10.5"><tspan font-style="italic">r</tspan><tspan font-size="7.8" dy="5">t0</tspan><tspan dy="-5"> / </tspan><tspan font-style="italic">R</tspan><tspan font-size="8.2" dx="0.6" dy="5">p</tspan></text>
<text x="414.5" y="233" font-size="10.5"><tspan font-style="italic">r</tspan><tspan font-size="7.8" dy="5">t0</tspan><tspan dy="-5"> / </tspan><tspan font-style="italic">R</tspan><tspan font-size="8.2" dx="0.6" dy="5">p</tspan></text>
<text transform="translate(12.7,123.8) rotate(-90)" font-size="10"><tspan font-style="italic">P</tspan> (mm)</text>
<text transform="translate(290.7,126.5) rotate(-90)" font-size="11"><tspan font-style="italic">R</tspan><tspan font-size="8.5" dy="5">T</tspan><tspan dy="-5"> / </tspan><tspan font-style="italic">R</tspan><tspan font-size="8.5" dy="-3">*</tspan><tspan font-size="8.5" dy="8">T</tspan></text>
<text x="136" y="258.4" text-anchor="middle" font-size="11.5">(<tspan font-weight="bold">a</tspan>)</text>
<text x="414" y="258.4" text-anchor="middle" font-size="11.5">(<tspan font-weight="bold">b</tspan>)</text>
<rect x="103.5" y="18.5" width="152.5" height="33.5" fill="#fff" stroke="#4a4a4a" stroke-width="1"/>
<line x1="106.5" y1="24.8" x2="138.0" y2="24.8" stroke="#62b4d4" stroke-width="1.8"/>
<circle cx="122.00" cy="24.80" r="2" fill="none" stroke="#3a8098" stroke-width="1"/>
<text x="141.0" y="28.2" font-size="8.3" style="stroke-width:0.18px">Mises yield criterion (<tspan font-style="italic">b</tspan> = 0.367)</text>
<line x1="106.5" y1="35.3" x2="138.0" y2="35.3" stroke="#f07a74" stroke-width="1.0"/>
<path d="M120.30,35.30H123.70M122.00,33.60V37.00" stroke="#ec6454" stroke-width="1" fill="none"/>
<text x="141.0" y="38.699999999999996" font-size="8.3" style="stroke-width:0.18px">Twin shear yield criterion (<tspan font-style="italic">b</tspan> = 1)</text>
<line x1="106.5" y1="45.9" x2="138.0" y2="45.9" stroke="#f8c68c" stroke-width="1.8"/>
<path d="M120.40,45.90H123.60M122.00,44.30V47.50M120.87,44.77L123.13,47.03M120.87,47.03L123.13,44.77" stroke="#f4b34e" stroke-width="1.0" fill="none"/>
<text x="141.0" y="49.3" font-size="8.3" style="stroke-width:0.18px">Tresca yield criterion (<tspan font-style="italic">b</tspan> = 0)</text>
<rect x="381.4" y="161.4" width="152.2" height="34.2" fill="#fff" stroke="#4a4a4a" stroke-width="1"/>
<line x1="384.4" y1="168.3" x2="415.9" y2="168.3" stroke="#8080d4" stroke-width="1.0"/>
<circle cx="399.90" cy="168.30" r="2" fill="none" stroke="#5a5890" stroke-width="1"/>
<text x="418.9" y="171.70000000000002" font-size="8.3" style="stroke-width:0.18px">Mises yield criterion (<tspan font-style="italic">b</tspan> = 0.367)</text>
<line x1="384.4" y1="178.7" x2="415.9" y2="178.7" stroke="#c0a870" stroke-width="1.8"/>
<path d="M398.20,178.70H401.60M399.90,177.00V180.40" stroke="#a89458" stroke-width="1" fill="none"/>
<text x="418.9" y="182.1" font-size="8.3" style="stroke-width:0.18px">Twin shear yield criterion (<tspan font-style="italic">b</tspan> = 1)</text>
<line x1="384.4" y1="189" x2="415.9" y2="189" stroke="#d0d858" stroke-width="1.0"/>
<path d="M398.30,189.00H401.50M399.90,187.40V190.60M398.77,187.87L401.03,190.13M398.77,190.13L401.03,187.87" stroke="#c8d850" stroke-width="1.0" fill="none"/>
<text x="418.9" y="192.4" font-size="8.3" style="stroke-width:0.18px">Tresca yield criterion (<tspan font-style="italic">b</tspan> = 0)</text>
</svg>
</body></html>
